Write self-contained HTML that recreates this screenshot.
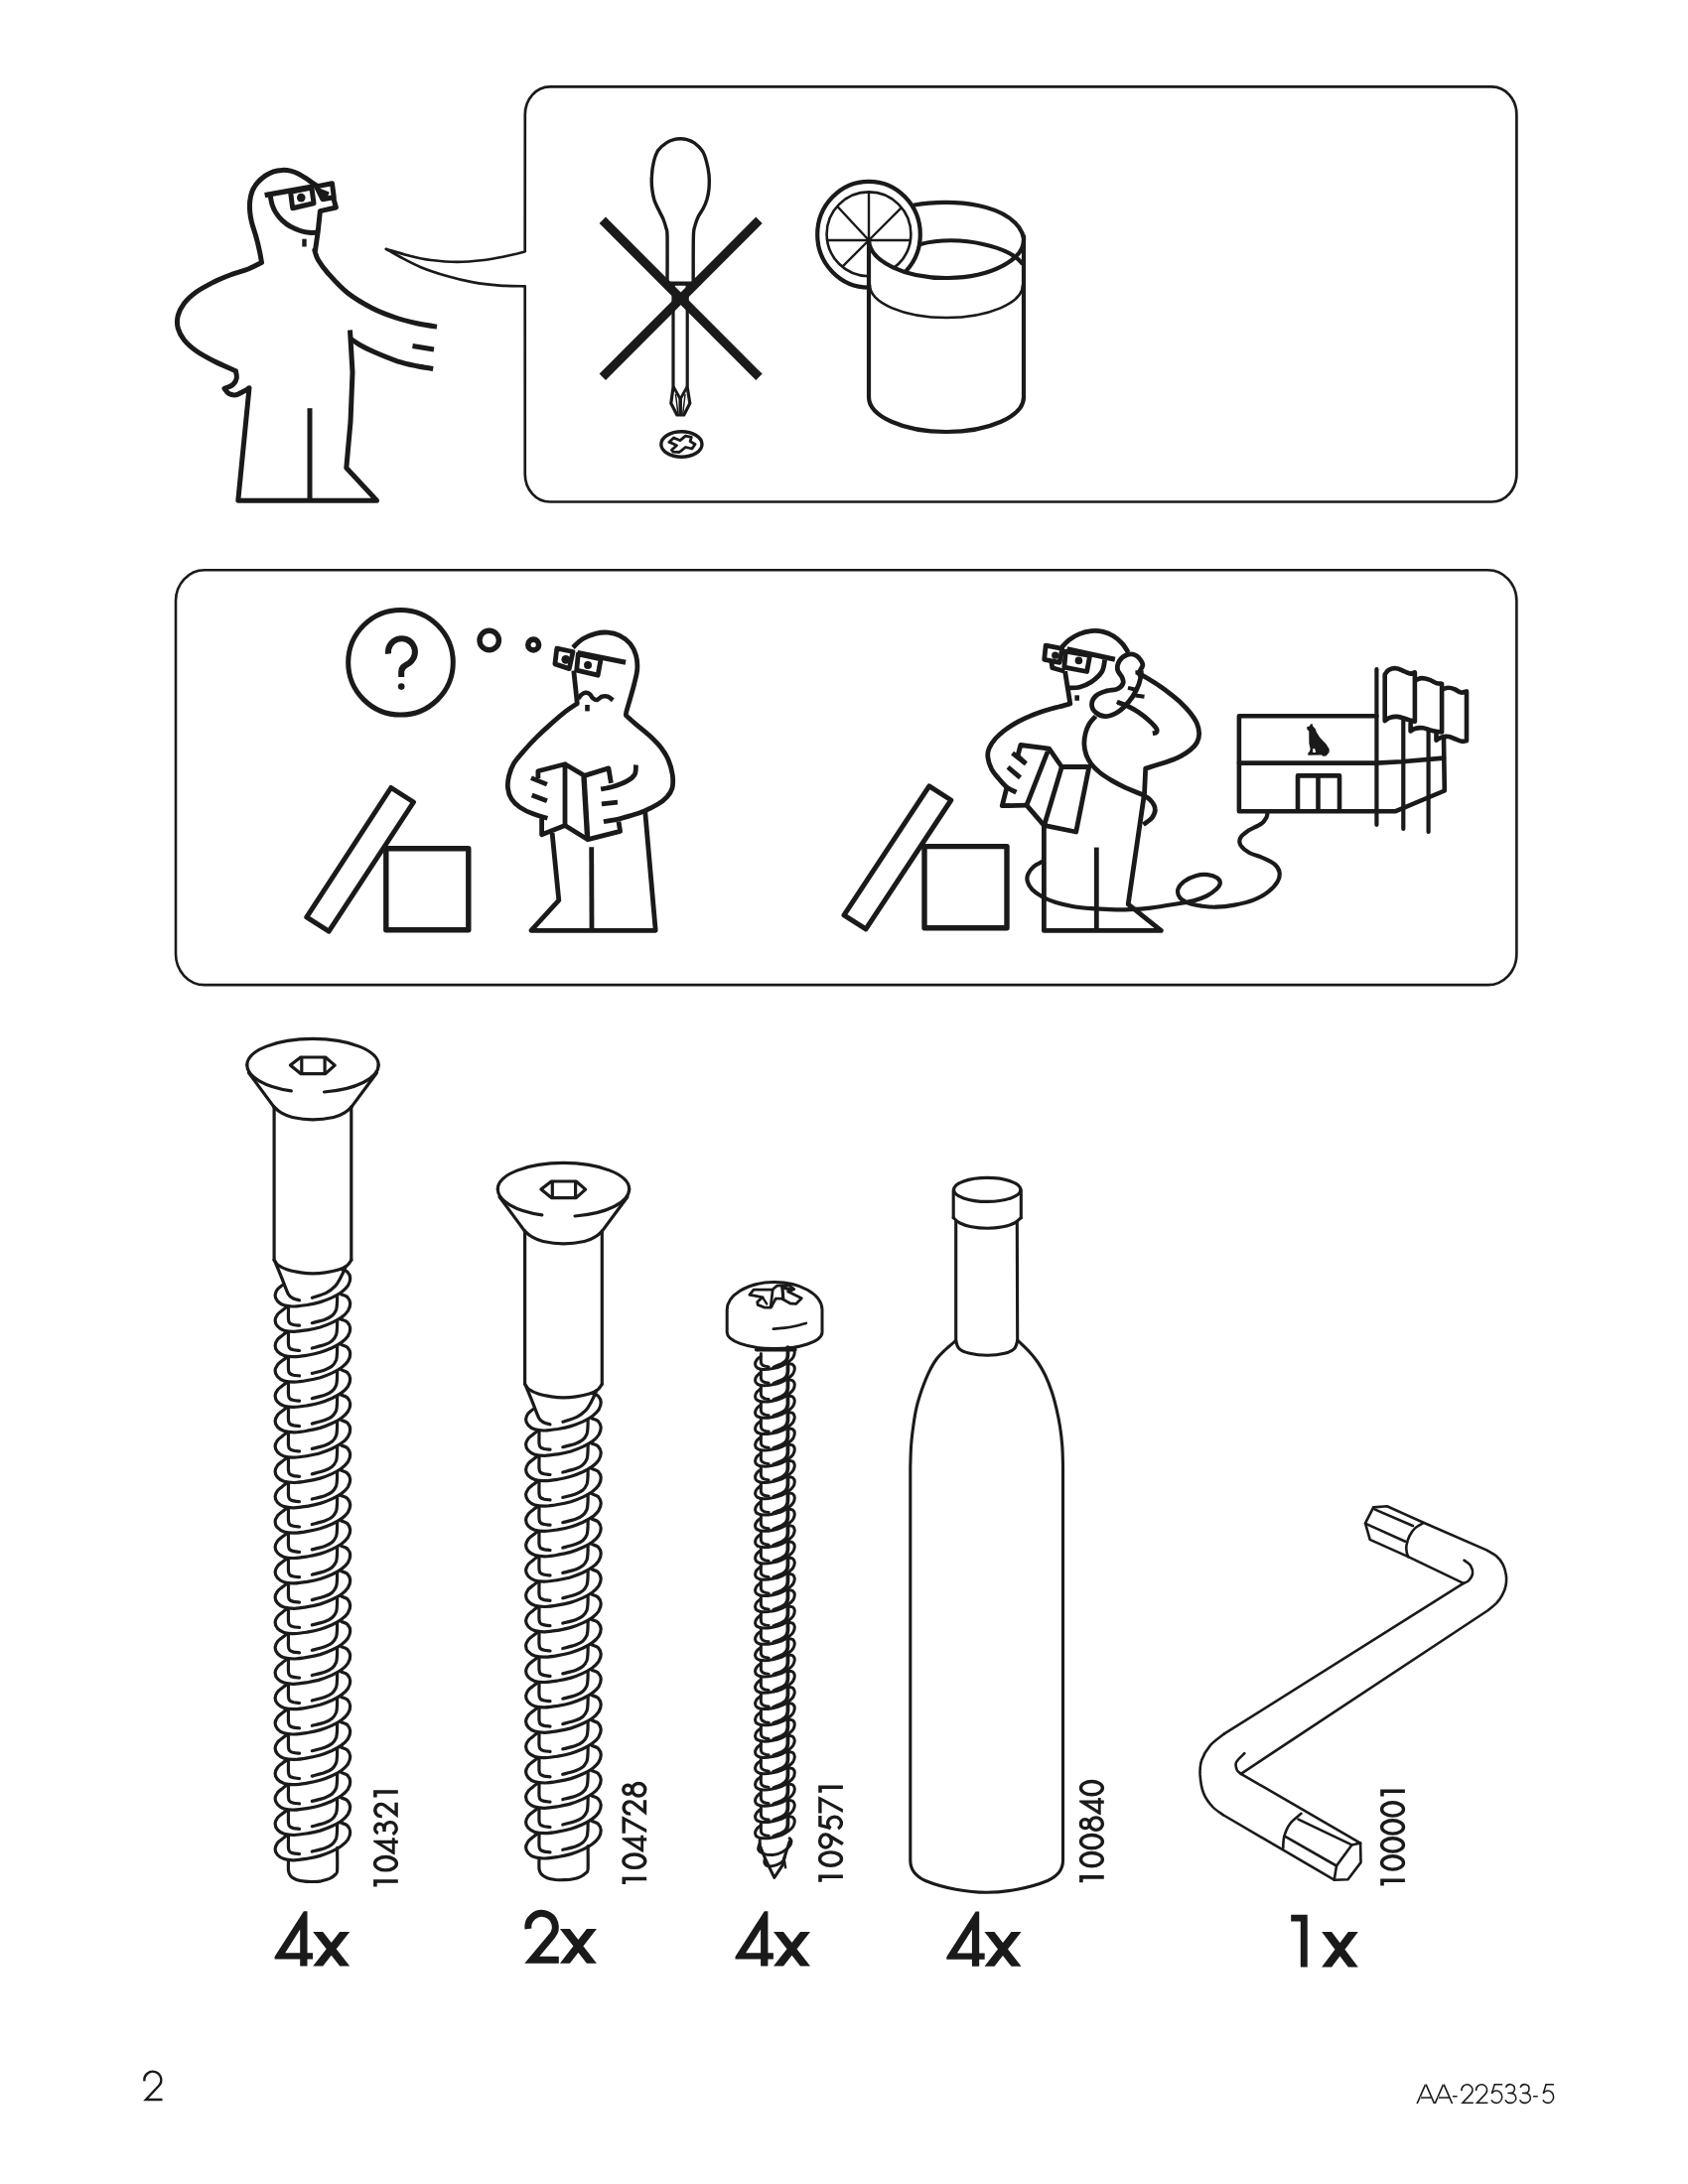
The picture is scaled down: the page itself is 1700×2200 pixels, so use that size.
<!DOCTYPE html>
<html><head><meta charset="utf-8"><title>Assembly instructions - page 2</title>
<style>
html,body{margin:0;padding:0;background:#fff;}
body{width:1700px;height:2200px;overflow:hidden;font-family:"Liberation Sans",sans-serif;}
svg{display:block;position:absolute;left:0;top:0;}
svg text{font-family:"Liberation Sans",sans-serif;}
</style></head><body>
<svg width="1700" height="2200" viewBox="0 0 1700 2200" fill="none" stroke="#1a1a1a" stroke-linecap="round" stroke-linejoin="round">
<rect x="0" y="0" width="1700" height="2200" fill="#fff" stroke="none"/>
<path d="M553.75,87.4 L1502.4,87.4 A25,28 0 0 1 1527.4,115.4 L1527.4,477.5 A25,28 0 0 1 1502.4,505.5 L553.75,505.5 A25,28 0 0 1 528.75,477.5 L528.7,288.3 C524.4,288.2 512,288.2 503.3,287.6 C494.6,286.9 485.5,286 476.6,284.4 C467.7,282.8 458.9,280.6 450,278 C441.1,275.4 431.3,272.2 423.3,268.9 C415.3,265.6 407.8,261.3 402,258.3 C396.2,255.2 390.9,252 388.7,250.8 C392.7,251.9 405.1,255.9 412.7,257.7 C420.2,259.6 426,261 434,262 C442,263 451.8,263.9 460.6,263.9 C469.5,263.9 479.3,262.9 487.3,262 C495.3,261 502,259.6 508.6,258.3 C515.2,256.9 523.4,254.9 526.7,254 C530.1,253.1 528.3,252.8 528.7,252.6 L528.8,115.4 A25,28 0 0 1 553.75,87.4 Z" stroke-width="2.7"/>
<g stroke-linecap="butt">
<path d="M319.6,187.4 C318.8,186.8 316.6,185.5 314.6,184.2 C312.6,182.8 309.9,180.7 307.5,179.2 C305.2,177.6 302.9,176.1 300.4,174.9 C297.9,173.7 295.3,172.7 292.6,172.1 C289.9,171.5 286.9,171.3 284.1,171.4 C281.2,171.5 278.4,171.8 275.5,172.8 C272.7,173.7 269.7,175.2 267,177.1 C264.3,179 261.3,181.7 259.2,184.2 C257.1,186.7 255.5,188.9 254.2,192 C253,195.1 252.1,199.1 251.7,202.6 C251.3,206.2 251.4,209.8 251.7,213.3 C252,216.9 252.5,219.8 253.5,224 C254.5,228.1 256.5,233.4 257.8,238.2 C259.1,242.9 260.4,248 261.3,252.4 C262.3,256.8 263.1,262.5 263.5,264.5 C261.2,265.6 255.2,269 250,271 C244.8,273 238.3,274.5 232.5,276.8 C226.7,279 220.8,281.3 215,284.2 C209.2,287.2 202.4,290.7 197.5,294.2 C192.6,297.8 188.5,301.5 185.5,305.5 C182.5,309.5 180.3,313.8 179.2,318 C178.2,322.2 178.2,326.4 179.2,330.5 C180.3,334.6 182.4,338.6 185.5,342.5 C188.6,346.4 193,350.2 198,353.8 C203,357.3 208.9,360.4 215.5,363.8 C222.1,367.1 233.8,372.1 237.5,373.8 C237.6,375 238.8,379 238.2,381.2 C237.8,383.5 236.5,385.8 234.5,387.5 C232.5,389.2 227.4,390.8 226,391.5 C226.8,392.3 228.6,395.5 230.5,396.5 C232.4,397.5 235,398.2 237.5,397.8 C240,397.3 243.5,395.2 245.8,394 C248,392.8 250.1,391.3 251,390.8 L239.8,504.2 L379.5,504.2 L348.8,471.2 L353,425 L355,375 L352.5,332.5" stroke-width="5"/>
<path d="M266.7,196.7 L315.7,187.9" stroke-width="5.4"/>
<path d="M292.6,193.4 L313.9,189.1 L316,204.8 L294.7,209.8 Z" stroke-width="5"/>
<path d="M318.5,187.9 L334.5,184.7 L336.3,198.7 L324.9,200.7 Z" stroke-width="5"/>
<circle cx="303.255" cy="199.09" r="4.3" fill="#1a1a1a" stroke="none"/>
<path d="M318.9,188.4 L331.7,193.4 L329.6,199.8 L324.9,200.7 Z" fill="#1a1a1a" stroke="none"/>
<path d="M335.9,199.8 L338.4,209 L322.4,212.6 L320.3,232.5 L317.5,252.4 C317.4,252.4 316.5,250.9 317,252.5 C317.5,254.1 318.2,258.2 320.5,262 C322.8,265.8 325.6,270 330.5,275.5 C335.4,281 342.6,289.2 350,295 C357.4,300.8 366.7,306.2 375,310.5 C383.3,314.8 392.5,318 400,320.5 C407.5,323 413.3,324.3 420,325.8 C426.7,327.2 436.7,328.7 440,329.2" stroke-width="5"/>
<path d="M272.3,197.7 C272.6,199.1 273.2,203.5 274.1,206.2 C275,208.9 276,211.4 277.7,214 C279.3,216.6 281.6,219.5 284.1,221.8 C286.6,224.2 289.5,226.5 292.6,228.2 C295.7,230 299.5,231.5 302.5,232.5 C305.6,233.5 308.2,234 311.1,234.3 C313.9,234.6 318.2,234.3 319.6,234.3" stroke-width="5"/>
<rect x="304.3" y="240.7" width="4.4" height="7.8" fill="#1a1a1a" stroke="none"/>
<path d="M312,411.2 L312,503.8" stroke-width="5"/>
<path d="M353,341.2 C354.6,342.3 358.8,345.4 362.5,347.5 C366.2,349.6 368.8,351 375,353.8 C381.2,356.5 392.5,361.2 400,363.8 C407.5,366.2 414,367.5 420,368.8 C426,370 433.5,371 436.2,371.5" stroke-width="5"/>
<path d="M415.5,348.5 L437,352" stroke-width="5"/>
</g>
<path d="M672,284.7 C672,277.7 672.2,246.1 672,237.8 C671.8,229.5 671.4,232.1 670.8,229.6 C670.2,227 668.9,223.1 667.9,220.5 C666.8,217.9 665.1,215 663.8,212.3 C662.5,209.5 660.3,205.6 659.2,202.4 C658.2,199.2 657.2,194.5 656.8,190.8 C656.3,187.1 656.1,181.9 656.4,177.7 C656.6,173.5 657.4,166.8 658.4,162.8 C659.4,158.9 661,154.1 662.9,151.3 C664.9,148.5 668.8,145.5 671.2,143.9 C673.5,142.3 676.5,141.2 678.6,140.6 C680.7,140 683.2,139.8 685.2,139.8 C687.2,139.8 689.7,140 691.8,140.6 C693.9,141.2 696.8,142.2 699.2,143.9 C701.5,145.6 705.6,149.3 707.4,152.1 C709.3,155 710.6,159.3 711.5,162.8 C712.5,166.4 713.6,171.9 714,176 C714.4,180.1 714.3,186.3 714,190 C713.7,193.7 712.8,197.8 712,200.7 C711.1,203.7 709.6,207.2 708.3,209.8 C707,212.4 704.5,215.4 703.3,218 C702.1,220.6 700.8,224.1 700,227.1 C699.3,230 698.6,229.1 698.4,237.8 C698.1,246.4 698.2,277.7 698.2,284.7" stroke-width="3.4"/>
<path d="M671.5,285.6 L698.8,285.6" stroke-width="4.2"/>
<path d="M678,286.2 L678,390 L675.8,406.2 L681.8,418 L688.8,418 L694.8,406.2 L692.2,390 L692.2,286.2" stroke-width="3.2"/>
<path d="M678.5,390 L685.2,402 L691.8,390" stroke-width="2.8"/>
<path d="M685.2,402 L685.2,417.5" stroke-width="3.5"/>
<path d="M680.5,397.5 L682.8,416.2" stroke-width="1.5"/>
<path d="M690,397.5 L687.8,416.2" stroke-width="1.5"/>
<path d="M606.8,221.8 L764.5,379.8" stroke-width="9" stroke-linecap="butt"/>
<path d="M764.5,221.8 L606.8,379.8" stroke-width="9" stroke-linecap="butt"/>
<ellipse cx="686.4" cy="447.5" rx="20.6" ry="12.8" stroke-width="3.4"/>
<path d="M673.8,445.5 L678.5,441 L685,443.7 L690.4,439.2 L696.3,440.4 L695.1,444.6 L700.1,447.5 L696.9,452 L690.4,450.5 L685.6,454.3 L683.8,455.5 L677.9,455.2 L676.4,453.2 L681.5,448.7 L677.9,446.9 Z" stroke-width="2.8"/>
<defs><clipPath id="lemclip"><path clip-rule="evenodd" d="M780,150 H1100 V330 H780 Z M875,242 A78,39 0 0 0 1031,242 V330 H875 Z"/></clipPath></defs>
<defs><clipPath id="lemin"><circle cx="875" cy="235.8" r="42.4"/></clipPath></defs>
<g clip-path="url(#lemclip)">
<ellipse cx="875" cy="236.2" rx="51.8" ry="53.4" stroke-width="4.2"/>
<circle cx="875" cy="235.8" r="42.4" stroke-width="2.6"/>
<g clip-path="url(#lemin)">
<path d="M875,242 L945.0,242.0" stroke-width="2.4"/>
<path d="M875,242 L924.5,192.5" stroke-width="2.4"/>
<path d="M875,242 L875.0,172.0" stroke-width="2.4"/>
<path d="M875,242 L827.3,190.8" stroke-width="2.4"/>
<path d="M875,242 L805.0,242.0" stroke-width="2.4"/>
<path d="M875,242 L825.5,291.5" stroke-width="2.4"/>
</g>
</g>
<path d="M875,242 V400 A78,35 0 0 0 1031,400 V238" stroke-width="4.2"/>
<path d="M875,242 A78,39 0 0 0 1031,240" stroke-width="4.2"/>
<path d="M921,206.5 C940,203 965,203 985,207 C1010,212 1028,224 1031,240" stroke-width="4.2"/>
<path d="M927,246 C945,241 970,241 990,246 C1008,250 1022,256 1029,265" stroke-width="4.2"/>
<path d="M876,287 A77,33 0 0 0 1030,287" stroke-width="2.6"/>
<path d="M206,574.3 L1498.4,574.3 A29,31 0 0 1 1527.4,605.3 L1527.4,961.1 A29,31 0 0 1 1498.4,992.1 L206,992.1 A29,31 0 0 1 177,961.1 L177,605.3 A29,31 0 0 1 206,574.3 Z" stroke-width="2.6"/>
<circle cx="403.5" cy="667.3" r="52.8" stroke-width="5"/>
<path d="M391.1,658.6 A13.5,13.5 0 1 1 412.8,667.3 C408.3,670.7 404.2,671 404.2,676.5 L404.2,682" stroke-width="6" stroke-linecap="butt"/>
<circle cx="404.2" cy="691.6" r="3.3" fill="#1a1a1a" stroke="none"/>
<circle cx="492.7" cy="645" r="9.7" stroke-width="5.4"/>
<circle cx="537.2" cy="649.5" r="5.4" stroke-width="5.6"/>
<path d="M393.8,793.5 L416.5,808 L331.2,938.2 L308.8,923.8 Z" stroke-width="5"/>
<rect x="388.8" y="854.8" width="83" height="82" stroke-width="5.4"/>
<g stroke-linecap="butt">
<path d="M577,652.2 C578.7,650.7 583.1,645.8 587,643.5 C590.9,641.1 596.2,639.2 600.4,638.1 C604.6,637.1 608.2,636.8 612.1,637.1 C616,637.4 620,638.2 623.8,640.1 C627.6,642 631.9,645.1 634.7,648.5 C637.4,651.8 639.3,656 640.5,660.2 C641.7,664.4 642.1,668.8 641.8,673.6 C641.6,678.3 640,683.6 638.8,688.6 C637.6,693.6 636,698.9 634.7,703.6 C633.3,708.4 631.5,714.2 630.8,717 C630.1,719.9 630.5,720.1 630.5,720.7 C632.2,722.2 636.6,726.2 640.5,729.6 C644.4,732.9 649.7,736.9 653.9,740.8 C658.1,744.7 662.4,748.8 665.6,753 C668.8,757.1 671.2,760.9 673.1,765.5 C675.1,770.1 676.6,775.8 677.3,780.5 C677.9,785.3 677.9,790.2 677,793.9 C676,797.7 673.9,800.4 671.4,803.1 C669,805.8 666,808 662.2,810.3 C658.5,812.6 653.3,815.1 648.9,817 C644.4,818.9 639.7,820.2 635.5,821.5 C631.3,822.8 628.4,823.8 623.8,824.8 C619.2,825.9 610.6,827.2 607.9,827.7" stroke-width="4.8"/>
<path d="M577.8,675.6 L581.3,708.7 C579.5,709.9 574.9,712.6 570.3,716.2 C565.7,719.8 558.6,725.9 553.6,730.4 C548.6,734.8 544.5,738.6 540.2,742.9 C535.9,747.2 531.4,752 527.7,756.3 C523.9,760.6 520.2,764.7 517.6,768.8 C515.1,773 513.7,777.2 512.6,781.4 C511.6,785.6 511,790 511.5,793.9 C511.9,797.8 513.1,801.6 515.1,804.8 C517.1,808 519.9,810.6 523.5,813.1 C527.1,815.6 532.2,818 536.9,819.8 C541.5,821.7 549,823.6 551.4,824.3" stroke-width="4.8"/>
<path d="M649.7,817.3 L660.2,937.3 L534.9,937.3 L562.8,906.8 L556.1,839.1" stroke-width="4.8"/>
<path d="M595.7,853.3 L596,936.8" stroke-width="4.8"/>
<path d="M582.3,704 C582.8,703.3 584.1,701 585.3,700 C586.5,698.9 588.1,698 589.5,697.8 C590.9,697.6 592.5,698 593.7,699 C595,699.9 595.8,702.3 597,703.3 C598.3,704.3 599.7,705.3 601.2,705 C602.8,704.7 604.4,702.2 606.2,701.6 C608.1,701.1 610.2,701 612.1,701.6 C614,702.3 616.6,704.7 617.4,705.3" stroke-width="4.4"/>
<rect x="589.191" y="709.997" width="4.6" height="6.4" fill="#1a1a1a" stroke="none"/>
<path d="M581.7,657.5 L630.1,667.2" stroke-width="5.2"/>
<path d="M582.3,658.8 L605.1,663.9 L602.1,680.2 L580.7,675.2 Z" stroke-width="4.8"/>
<path d="M560.8,653.2 L577,656.5 L573.3,673.6 L558.9,668.9 Z" stroke-width="4.8"/>
<circle cx="592.033" cy="669.876" r="4" fill="#1a1a1a" stroke="none"/>
<circle cx="569.799" cy="664.36" r="4.4" fill="#1a1a1a" stroke="none"/>
<path d="M541.9,783.9 L541.9,776.7 L569,769.7 L569,831.5 L545.6,840.7 L545.6,824.3" stroke-width="4.8"/>
<path d="M569,769.7 L588.7,781.4 L612.9,773.9 L615.4,788.9" stroke-width="4.8"/>
<path d="M569,831.5 L592,845.7 L624.6,837.4 L623,827.7" stroke-width="4.8"/>
<path d="M588,782.2 L591.7,845.4" stroke-width="5.4"/>
<path d="M534.9,783.6 L550.9,790.1" stroke-width="4.8"/>
<path d="M535.7,801.1 L550.9,806.8" stroke-width="4.8"/>
<path d="M640.5,770.5 C640.3,772.1 640.7,777.5 639.2,780.2 C637.6,782.9 634.9,784.9 631.3,786.9 C627.8,788.9 622.3,790.9 617.9,792.2 C613.6,793.6 607.2,794.5 605.1,794.9" stroke-width="4.8"/>
<path d="M605.9,809.8 L622,808.1" stroke-width="4.8"/>
</g>
<path d="M935.8,791.8 L957.8,806 L872,935.8 L850,921.8 Z" stroke-width="5"/>
<rect x="931" y="852.6" width="83" height="82.2" stroke-width="5.4"/>
<path d="M1049.9,867.8 C1048.5,868.6 1043.4,870.9 1041,873 C1038.6,875.1 1036.4,877.9 1035.4,880.4 C1034.3,882.9 1034.1,885.3 1034.8,887.9 C1035.5,890.5 1037,893.4 1039.5,896 C1042.1,898.6 1046,901.3 1049.9,903.5 C1053.9,905.6 1058.1,907.4 1063.3,909 C1068.5,910.6 1075.2,912.1 1081.2,913.2 C1087.1,914.2 1092.8,914.7 1099,915.2 C1105.2,915.7 1111.9,916 1118.4,916.1 C1124.8,916.3 1131,916.4 1137.7,916.1 C1144.4,915.9 1150.1,915.7 1158.6,914.6 C1167,913.6 1181,911.2 1188.4,910 C1195.7,908.7 1198.4,908.3 1202.9,907.1 C1207.4,905.8 1211.7,904.3 1215.3,902.5 C1218.9,900.7 1222.4,898.2 1224.6,896.1 C1226.9,894 1228.6,891.8 1228.8,889.8 C1229,887.9 1227.8,885.7 1225.7,884.2 C1223.6,882.8 1219.9,881.5 1216.3,881.1 C1212.8,880.8 1208.3,881.1 1204.3,882.2 C1200.3,883.3 1195.5,885.5 1192.5,887.8 C1189.5,890.1 1187,893.3 1186.3,896.1 C1185.6,898.8 1186.6,902.1 1188.4,904.4 C1190.1,906.6 1193,908.2 1196.7,909.5 C1200.3,910.9 1205.5,912 1210.1,912.7 C1214.8,913.3 1219.1,913.9 1224.6,913.7 C1230.2,913.5 1236.9,912.8 1243.3,911.6 C1249.7,910.4 1257.3,908.7 1263,906.4 C1268.7,904.2 1273.5,901.2 1277.5,898.1 C1281.5,895 1285,891.1 1286.8,887.8 C1288.7,884.5 1289,881.3 1288.5,878.4 C1288,875.6 1286.4,872.9 1283.7,870.6 C1281,868.2 1276.7,866.3 1272.3,864.3 C1268,862.4 1261.6,860.9 1257.8,858.7 C1254,856.6 1251,853.9 1249.5,851.5 C1248.1,849.1 1247.9,846.6 1249.1,844.2 C1250.3,841.8 1253.3,839.4 1256.8,837 C1260.3,834.6 1267.1,832 1270.3,829.7 C1273.4,827.5 1274.4,825.4 1275.4,823.5 C1276.5,821.6 1276.3,819.2 1276.5,818.3" stroke-width="4.2"/>
<g stroke-linecap="butt">
<path d="M1069.3,652 C1070.5,650.8 1073.8,646.8 1076.7,644.6 C1079.7,642.3 1083.4,640.1 1087.1,638.6 C1090.9,637.1 1095.1,636 1099,635.6 C1103,635.3 1107.2,635.5 1111,636.4 C1114.7,637.2 1118.1,638.8 1121.4,640.8 C1124.6,642.8 1127.8,645.5 1130.3,648.3 C1132.8,651 1135.3,655.7 1136.2,657.2" stroke-width="4.8"/>
<path d="M1074.6,653.8 L1122.9,664.3" stroke-width="5.2"/>
<path d="M1073.3,656.2 L1097.6,660.5 L1094.6,676.5 L1071.8,672.1 Z" stroke-width="4.8"/>
<path d="M1053.2,650.1 L1069.7,653.3 L1067.1,667.3 L1051.7,664.3 Z" stroke-width="4.8"/>
<path d="M1058.9,666.4 L1059.8,672.8 L1072.3,676.2" stroke-width="4.8"/>
<circle cx="1086.4" cy="665.387" r="3.8" fill="#1a1a1a" stroke="none"/>
<circle cx="1062.74" cy="660.179" r="3.6" fill="#1a1a1a" stroke="none"/>
<path d="M1072.6,676.2 L1077.8,709 C1075.9,709.5 1070.2,710.9 1066.3,712 C1062.4,713 1058.9,713.8 1054.4,715.2 C1049.9,716.7 1044.5,718.4 1039.5,720.4 C1034.6,722.5 1029.4,724.8 1024.6,727.4 C1019.9,730 1015,733.3 1011.2,736.1 C1007.5,738.9 1004.9,741.3 1002.3,744.3 C999.8,747.2 997.3,750.8 996.1,753.9 C994.8,757 994.5,759.4 994.9,762.9 C995.3,766.3 996.9,771.3 998.6,774.8 C1000.3,778.2 1002.8,780.7 1005.3,783.7 C1007.8,786.7 1010.5,790.2 1013.5,792.6 C1016.5,795 1021.8,797.2 1023.5,798.1" stroke-width="4.8"/>
<path d="M1112.7,664.6 C1112.2,666.6 1112,672.8 1109.8,676.5 C1107.5,680.3 1102.8,684.4 1099,687 C1095.3,689.6 1090.8,691.2 1087.1,692.2 C1083.5,693.2 1078.7,692.8 1077,692.9" stroke-width="4.8"/>
<rect x="1082.38" y="700.357" width="4.6" height="5.4" fill="#1a1a1a" stroke="none"/>
<path d="M1013.9,793.4 L1009.3,811.7 L1033.9,811.2" stroke-width="4.8"/>
<path d="M1024.9,761.4 L1027.9,750.5 L1056.6,754.2 L1069.3,772.5 L1096.8,772.5 L1083.7,838 L1051.4,831.3 L1033.9,811.2 L1056,754.8" stroke-width="4.8"/>
<path d="M1069.3,772.5 L1051.7,831.3" stroke-width="4.8"/>
<path d="M1024.9,761.4 L1032.4,768.8" stroke-width="4.8"/>
<path d="M1019.6,758.7 L1033.4,769.3" stroke-width="4.8"/>
<path d="M1015.1,772.8 L1027.5,783.4" stroke-width="4.8"/>
<path d="M1103.5,721.5 C1102.4,722.8 1098.6,726.4 1096.8,729.4 C1095.1,732.3 1093.9,735.7 1093.1,739 C1092.3,742.4 1091.8,746 1091.9,749.5 C1092,752.9 1092.6,756.5 1093.8,759.9 C1095,763.2 1096.7,766.5 1099,769.6 C1101.4,772.7 1104.5,775.7 1108,778.5 C1111.4,781.3 1115.7,783.9 1119.9,786.4 C1124.1,788.8 1128.3,791.1 1133.3,793.4 C1138.2,795.6 1145.4,798 1149.6,800.1 C1153.9,802.2 1156.3,803.5 1158.6,806 C1160.9,808.5 1163.1,812 1163.3,814.9 C1163.6,817.9 1162,821.3 1160.1,823.9 C1158.1,826.5 1152.9,829.4 1151.4,830.6" stroke-width="4.8"/>
<path d="M1145.2,677.3 C1146.9,678.3 1151.9,681 1155.6,683.2 C1159.3,685.5 1163.5,688 1167.5,690.7 C1171.5,693.4 1175.7,696.6 1179.4,699.6 C1183.1,702.6 1186.6,705.4 1189.8,708.5 C1193,711.6 1196.1,714.9 1198.8,718.2 C1201.4,721.6 1204,725.2 1205.4,728.6 C1206.9,732.1 1207.7,735.8 1207.7,739 C1207.7,742.3 1206.9,745.2 1205.4,748 C1204,750.7 1201.6,753.1 1198.8,755.4 C1195.9,757.8 1192.5,760 1188.3,762.1 C1184.1,764.2 1179.2,766.1 1173.5,768.1 C1167.7,770 1157,773 1153.7,774 L1152.6,798.6 L1136.2,910.9 L1169.3,937.4 L1051.4,937.4 L1051.4,831.3" stroke-width="4.8"/>
<path d="M1104.3,853.6 L1104.3,937" stroke-width="4.8"/>
<path d="M1125.8,707.5 C1127.6,708.2 1132.8,709.9 1136.2,711.5 C1139.7,713.2 1143.2,715.1 1146.7,717.5 C1150.1,719.8 1154.1,722.9 1157.1,725.7 C1160.1,728.4 1163.3,731.8 1164.5,733.8 C1165.8,735.9 1165.1,737.1 1164.5,737.9 C1163.9,738.7 1161.4,738.5 1160.8,738.6" stroke-width="4.8"/>
<path d="M1147.4,677.3 C1147.8,674.9 1151.3,671.9 1150.8,669.1 C1150.3,666.3 1147,662.1 1144.4,660.5 C1141.9,658.9 1138.4,658.5 1135.5,659.4 C1132.7,660.3 1129,663.3 1127.3,665.8 C1125.7,668.4 1125.1,672 1125.5,674.8 C1126,677.5 1129.1,679.9 1130,682.2 C1130.9,684.5 1131.9,686.5 1131,688.5 C1130.2,690.4 1127.8,692.9 1125.1,694.1 C1122.4,695.3 1118.1,694.9 1114.7,695.9 C1111.2,696.9 1106.8,698.1 1104.3,700.4 C1101.7,702.6 1099.6,706.4 1099.5,709.3 C1099.4,712.2 1101.4,715.9 1103.8,717.9 C1106.2,720 1110.1,721.8 1113.9,721.6 C1117.7,721.4 1122.7,719.2 1126.6,716.7 C1130.4,714.2 1134,710.2 1137,706.6 C1140,703 1142.5,699 1144.4,695.1 C1146.4,691.3 1148.1,686.2 1148.6,683.2 C1149.1,680.3 1147,679.6 1147.4,677.3 Z" stroke-width="4.8"/>
<path d="M1143.4,677.3 L1151.7,677.3" stroke-width="4"/>
<path d="M1136,692.9 L1144,694.7" stroke-width="4"/>
<path d="M1143.4,700.4 L1152.5,701.8" stroke-width="4"/>
<path d="M1124.8,706.9 L1133.6,710.9" stroke-width="4"/>
</g>
<path d="M1386.4,721.3 L1247.9,721.3 L1247.9,817.3 L1405,817.3 L1454.8,796.5 L1454,743.7" stroke-width="4.6"/>
<path d="M1247.9,768.6 L1386.4,768.6 L1411.2,767.3 L1454,763.6" stroke-width="4.6"/>
<path d="M1307,815.2 L1307,781.4 L1349,781.4 L1349,815.2" stroke-width="4.6"/>
<path d="M1327.5,781.4 L1327.5,815.2" stroke-width="4.6"/>
<path d="M1386.4,674.2 L1386.4,830.8" stroke-width="4.2"/>
<path d="M1413.3,724 L1413.3,834.9" stroke-width="4.2"/>
<path d="M1438.6,737.4 L1438.6,838" stroke-width="4.2"/>
<path d="M1394.7,726 L1394.7,679.4 C1395.4,678.6 1396.9,675.9 1398.8,674.8 C1400.7,673.8 1403.5,672.9 1406.1,673.2 C1408.7,673.4 1411.9,675.4 1414.4,676.3 C1416.8,677.2 1418.8,678.4 1420.6,678.6 C1422.3,678.7 1424.2,677.5 1424.9,677.3 L1424.9,726.7 C1424.4,726.6 1423.2,726.5 1421.6,726 C1420,725.6 1417.8,724.7 1415.4,724 C1413,723.3 1409.7,722.1 1407.1,721.9 C1404.5,721.7 1401.9,722.2 1399.8,722.9 C1397.8,723.6 1395.5,725.5 1394.7,726" stroke-width="4.6"/>
<path d="M1426.8,684.6 C1427.7,684.3 1429.9,683.1 1432,683.1 C1434.1,683.1 1436.8,683.7 1439.2,684.6 C1441.7,685.4 1444.4,687.4 1446.5,688.1 C1448.6,688.8 1451.2,688.6 1452.1,688.7 L1452.1,737.4 C1451.3,737.4 1449.5,737.4 1447.5,737 C1445.6,736.7 1442.7,736 1440.3,735.4 C1437.9,734.8 1435.4,733.6 1433,733.3 C1430.6,733 1427.8,733.2 1425.8,733.7 C1423.7,734.2 1421.4,736 1420.6,736.4 L1420.6,728.7" stroke-width="4.6"/>
<path d="M1453.8,693.9 C1454.6,693.7 1457,692.6 1458.9,692.7 C1460.8,692.7 1463.1,693.5 1465.2,694.3 C1467.2,695.2 1469.4,697.3 1471.4,697.6 C1473.3,698 1476,696.6 1477,696.4 L1477,746.2 C1476.2,746.3 1474.2,747 1472.4,746.8 C1470.6,746.5 1468.4,745.5 1466.2,744.7 C1463.9,743.9 1461.4,742.4 1458.9,742 C1456.5,741.7 1453.8,742 1451.7,742.6 C1449.6,743.3 1447.4,745.2 1446.5,745.7 L1446.5,739.5" stroke-width="4.6"/>
<path d="M1316.1,732.3 L1318.9,731.6 L1319.6,729.7 L1321.5,729 L1322.2,731.6 L1324.6,734 L1326,737.7 L1329.3,743 L1335.5,749.6 L1338.8,754.8 L1338.6,758.1 L1335.5,761.4 L1332.2,761.7 L1331.2,760.5 L1317.3,760.7 L1317.3,758.6 L1318.9,756.9 L1319.6,754.3 L1318.4,749.1 L1318.2,736.3 L1316.5,734.9 Z M1322.2,754.3 L1324.1,754.1 L1325.1,757.9 L1322.2,757.9 Z" fill="#1a1a1a" fill-rule="evenodd" stroke="none"/>
<g transform="translate(0,0)">
<path d="M248.8,1072.8 A66.2,26.4 0 0 1 381.2,1072.8" stroke-width="3.2"/>
<path d="M248.8,1072.8 A66.2,27.6 0 0 0 293.3,1098.9" stroke-width="3.2"/>
<path d="M381.2,1072.8 A66.2,27.6 0 0 1 326.5,1100" stroke-width="3.2"/>
<path d="M292.4,1073.1 L302.8,1065 L327.7,1065 L337.2,1073.1 L327.7,1081.6 L302.8,1081.6 Z" stroke-width="3.2"/>
<path d="M303.8,1065.3 L303.8,1081.3" stroke-width="3.2"/>
<path d="M327.1,1065.3 L327.1,1081.3" stroke-width="3.2"/>
<path d="M250.6,1080.8 L275.8,1114.9" stroke-width="3.2"/>
<path d="M379.4,1080.8 L354.1,1114.9" stroke-width="3.2"/>
<path d="M275.8,1114.9 C277,1115.9 279.8,1119 282.9,1120.7 C286.1,1122.5 289.2,1124.3 294.5,1125.5 C299.9,1126.7 308,1127.9 314.9,1127.9 C321.9,1127.9 330.6,1126.7 336,1125.5 C341.4,1124.3 344.3,1122.5 347.3,1120.7 C350.3,1119 353,1115.9 354.1,1114.9" stroke-width="3.2"/>
<path d="M276.1,1114.9 L276.1,1269.2" stroke-width="3.2"/>
<path d="M353.8,1114.9 L353.8,1269.2" stroke-width="3.2"/>
<path d="M276.1,1269.2 C276.8,1270 277.7,1272.5 279.9,1274.2 C282.2,1275.8 285.8,1277.8 289.6,1279.1 C293.4,1280.4 298.6,1281.3 302.8,1281.9 C307.1,1282.6 310.8,1282.9 314.9,1282.9 C319.1,1282.9 323.4,1282.6 327.7,1281.9 C332.1,1281.3 337.3,1280.3 341,1279.1 C344.6,1277.9 347.5,1276.3 349.6,1274.7 C351.7,1273 353.1,1270.1 353.8,1269.2" stroke-width="3.2"/>
<path d="M277,1270.8 C277.9,1273 282,1283 283.8,1287.4 C285.6,1291.8 288.8,1300.9 290.4,1303.7 C291.9,1306.4 293.9,1307.2 295.4,1308 C296.9,1308.8 300.7,1309.6 301.5,1309.8" stroke-width="3.2"/>
<path d="M348.1,1276.1 C347.3,1278 344.7,1283.9 343,1287.1 C341.2,1290.3 340.1,1292.8 337.7,1295.4 C335.3,1297.9 332.4,1300.4 328.5,1302.4 C324.7,1304.3 316.8,1306.5 314.4,1307.3" stroke-width="3.2"/>
<path d="M343.8,1278.5 C344.8,1278.9 348.3,1279.6 349.8,1281.1 C351.2,1282.6 352.6,1285.1 352.7,1287.4 C352.8,1289.8 351.8,1292.8 350.4,1295.2 C348.9,1297.5 346.5,1299.7 343.8,1301.7 C341.1,1303.7 337.9,1305.4 334.3,1307.1 C330.7,1308.7 326.5,1310.4 322.4,1311.6 C318.2,1312.8 313.7,1313.7 309.3,1314.5 C304.9,1315.2 300.1,1315.9 296.2,1316 C292.3,1316.1 288.8,1315.7 286.1,1314.8 C283.3,1313.9 281,1312.3 279.5,1310.6 C278,1309 277.1,1306.7 277.1,1304.7 C277.1,1302.7 278.3,1300.4 279.5,1298.7 C280.7,1297.1 283.5,1295.3 284.3,1294.6" stroke-width="3.2"/>
<path d="M343.8,1303.9 C344.8,1304.3 348.3,1305 349.8,1306.5 C351.2,1308 352.6,1310.4 352.7,1312.8 C352.8,1315.1 351.8,1318.1 350.4,1320.5 C348.9,1322.9 346.5,1325.1 343.8,1327.1 C341.1,1329.1 337.9,1330.8 334.3,1332.4 C330.7,1334.1 326.5,1335.7 322.4,1337 C318.2,1338.2 313.7,1339.1 309.3,1339.8 C304.9,1340.5 300.1,1341.3 296.2,1341.4 C292.3,1341.4 288.8,1341.1 286.1,1340.2 C283.3,1339.3 281,1337.7 279.5,1336 C278,1334.3 277.1,1332 277.1,1330 C277.1,1328.1 278.3,1325.8 279.5,1324.1 C280.7,1322.4 282.7,1321.2 284.3,1319.9 C285.8,1318.7 288.1,1317 288.8,1316.5" stroke-width="3.2"/>
<path d="M290.5,1317.2 C290.5,1318.7 290.3,1326.8 290.5,1328.9 C290.6,1330.9 291,1331.9 291.7,1332.7 C292.3,1333.4 294.3,1334.1 295.6,1334.5 C296.9,1334.8 300.8,1335.1 301.5,1335.2" stroke-width="3.2"/>
<path d="M339.6,1304.8 C339.6,1305.9 339.7,1310 339.5,1312.2 C339.4,1314.4 339.3,1317.4 338.6,1319.3 C337.8,1321.3 336.2,1323.8 334.5,1325.3 C332.8,1326.8 330.2,1328.1 327.1,1329.2 C324.1,1330.3 316.2,1332.1 314.3,1332.7" stroke-width="3.2"/>
<path d="M343.8,1329.2 C344.8,1329.6 348.3,1330.3 349.8,1331.8 C351.2,1333.3 352.6,1335.8 352.7,1338.1 C352.8,1340.5 351.8,1343.5 350.4,1345.9 C348.9,1348.3 346.5,1350.4 343.8,1352.4 C341.1,1354.4 337.9,1356.1 334.3,1357.8 C330.7,1359.4 326.5,1361.1 322.4,1362.3 C318.2,1363.5 313.7,1364.4 309.3,1365.2 C304.9,1365.9 300.1,1366.7 296.2,1366.7 C292.3,1366.8 288.8,1366.4 286.1,1365.5 C283.3,1364.6 281,1363 279.5,1361.4 C278,1359.7 277.1,1357.4 277.1,1355.4 C277.1,1353.4 278.3,1351.1 279.5,1349.4 C280.7,1347.8 282.7,1346.6 284.3,1345.3 C285.8,1344 288.1,1342.4 288.8,1341.8" stroke-width="3.2"/>
<path d="M290.5,1342.5 C290.5,1344.1 290.3,1352.1 290.5,1354.2 C290.6,1356.3 291,1357.3 291.7,1358 C292.3,1358.8 294.3,1359.5 295.6,1359.8 C296.9,1360.1 300.8,1360.4 301.5,1360.5" stroke-width="3.2"/>
<path d="M339.6,1330.2 C339.6,1331.3 339.7,1335.4 339.5,1337.5 C339.4,1339.7 339.3,1342.7 338.6,1344.7 C337.8,1346.7 336.2,1349.2 334.5,1350.6 C332.8,1352.1 330.2,1353.5 327.1,1354.6 C324.1,1355.7 316.2,1357.5 314.3,1358" stroke-width="3.2"/>
<path d="M343.8,1354.6 C344.8,1355 348.3,1355.7 349.8,1357.2 C351.2,1358.7 352.6,1361.2 352.7,1363.5 C352.8,1365.8 351.8,1368.9 350.4,1371.2 C348.9,1373.6 346.5,1375.8 343.8,1377.8 C341.1,1379.8 337.9,1381.5 334.3,1383.1 C330.7,1384.8 326.5,1386.4 322.4,1387.7 C318.2,1388.9 313.7,1389.8 309.3,1390.5 C304.9,1391.3 300.1,1392 296.2,1392.1 C292.3,1392.1 288.8,1391.8 286.1,1390.9 C283.3,1390 281,1388.4 279.5,1386.7 C278,1385 277.1,1382.7 277.1,1380.8 C277.1,1378.8 278.3,1376.5 279.5,1374.8 C280.7,1373.1 282.7,1371.9 284.3,1370.6 C285.8,1369.4 288.1,1367.8 288.8,1367.2" stroke-width="3.2"/>
<path d="M290.5,1367.9 C290.5,1369.5 290.3,1377.5 290.5,1379.6 C290.6,1381.6 291,1382.6 291.7,1383.4 C292.3,1384.1 294.3,1384.8 295.6,1385.2 C296.9,1385.5 300.8,1385.8 301.5,1385.9" stroke-width="3.2"/>
<path d="M339.6,1355.5 C339.6,1356.6 339.7,1360.7 339.5,1362.9 C339.4,1365.1 339.3,1368.1 338.6,1370 C337.8,1372 336.2,1374.5 334.5,1376 C332.8,1377.5 330.2,1378.8 327.1,1379.9 C324.1,1381 316.2,1382.9 314.3,1383.4" stroke-width="3.2"/>
<path d="M343.8,1379.9 C344.8,1380.4 348.3,1381.1 349.8,1382.5 C351.2,1384 352.6,1386.5 352.7,1388.8 C352.8,1391.2 351.8,1394.2 350.4,1396.6 C348.9,1399 346.5,1401.2 343.8,1403.1 C341.1,1405.1 337.9,1406.8 334.3,1408.5 C330.7,1410.1 326.5,1411.8 322.4,1413 C318.2,1414.2 313.7,1415.1 309.3,1415.9 C304.9,1416.6 300.1,1417.4 296.2,1417.4 C292.3,1417.5 288.8,1417.1 286.1,1416.2 C283.3,1415.3 281,1413.7 279.5,1412.1 C278,1410.4 277.1,1408.1 277.1,1406.1 C277.1,1404.1 278.3,1401.8 279.5,1400.2 C280.7,1398.5 282.7,1397.3 284.3,1396 C285.8,1394.7 288.1,1393.1 288.8,1392.5" stroke-width="3.2"/>
<path d="M290.5,1393.3 C290.5,1394.8 290.3,1402.9 290.5,1404.9 C290.6,1407 291,1408 291.7,1408.7 C292.3,1409.5 294.3,1410.2 295.6,1410.5 C296.9,1410.8 300.8,1411.1 301.5,1411.2" stroke-width="3.2"/>
<path d="M339.6,1380.9 C339.6,1382 339.7,1386.1 339.5,1388.3 C339.4,1390.4 339.3,1393.4 338.6,1395.4 C337.8,1397.4 336.2,1399.9 334.5,1401.3 C332.8,1402.8 330.2,1404.2 327.1,1405.3 C324.1,1406.4 316.2,1408.2 314.3,1408.7" stroke-width="3.2"/>
<path d="M343.8,1405.3 C344.8,1405.7 348.3,1406.4 349.8,1407.9 C351.2,1409.4 352.6,1411.9 352.7,1414.2 C352.8,1416.5 351.8,1419.6 350.4,1421.9 C348.9,1424.3 346.5,1426.5 343.8,1428.5 C341.1,1430.5 337.9,1432.2 334.3,1433.8 C330.7,1435.5 326.5,1437.1 322.4,1438.4 C318.2,1439.6 313.7,1440.5 309.3,1441.2 C304.9,1442 300.1,1442.7 296.2,1442.8 C292.3,1442.8 288.8,1442.5 286.1,1441.6 C283.3,1440.7 281,1439.1 279.5,1437.4 C278,1435.7 277.1,1433.4 277.1,1431.5 C277.1,1429.5 278.3,1427.2 279.5,1425.5 C280.7,1423.8 282.7,1422.6 284.3,1421.3 C285.8,1420.1 288.1,1418.5 288.8,1417.9" stroke-width="3.2"/>
<path d="M290.5,1418.6 C290.5,1420.2 290.3,1428.2 290.5,1430.3 C290.6,1432.3 291,1433.3 291.7,1434.1 C292.3,1434.8 294.3,1435.5 295.6,1435.9 C296.9,1436.2 300.8,1436.5 301.5,1436.6" stroke-width="3.2"/>
<path d="M339.6,1406.2 C339.6,1407.3 339.7,1411.4 339.5,1413.6 C339.4,1415.8 339.3,1418.8 338.6,1420.8 C337.8,1422.7 336.2,1425.2 334.5,1426.7 C332.8,1428.2 330.2,1429.5 327.1,1430.6 C324.1,1431.7 316.2,1433.6 314.3,1434.1" stroke-width="3.2"/>
<path d="M343.8,1430.6 C344.8,1431.1 348.3,1431.8 349.8,1433.2 C351.2,1434.7 352.6,1437.2 352.7,1439.6 C352.8,1441.9 351.8,1444.9 350.4,1447.3 C348.9,1449.7 346.5,1451.9 343.8,1453.8 C341.1,1455.8 337.9,1457.6 334.3,1459.2 C330.7,1460.8 326.5,1462.5 322.4,1463.7 C318.2,1465 313.7,1465.8 309.3,1466.6 C304.9,1467.3 300.1,1468.1 296.2,1468.1 C292.3,1468.2 288.8,1467.8 286.1,1466.9 C283.3,1466 281,1464.5 279.5,1462.8 C278,1461.1 277.1,1458.8 277.1,1456.8 C277.1,1454.8 278.3,1452.6 279.5,1450.9 C280.7,1449.2 282.7,1448 284.3,1446.7 C285.8,1445.4 288.1,1443.8 288.8,1443.2" stroke-width="3.2"/>
<path d="M290.5,1444 C290.5,1445.5 290.3,1453.6 290.5,1455.6 C290.6,1457.7 291,1458.7 291.7,1459.4 C292.3,1460.2 294.3,1460.9 295.6,1461.2 C296.9,1461.6 300.8,1461.8 301.5,1461.9" stroke-width="3.2"/>
<path d="M339.6,1431.6 C339.6,1432.7 339.7,1436.8 339.5,1439 C339.4,1441.1 339.3,1444.1 338.6,1446.1 C337.8,1448.1 336.2,1450.6 334.5,1452.1 C332.8,1453.5 330.2,1454.9 327.1,1456 C324.1,1457.1 316.2,1458.9 314.3,1459.4" stroke-width="3.2"/>
<path d="M343.8,1456 C344.8,1456.4 348.3,1457.1 349.8,1458.6 C351.2,1460.1 352.6,1462.6 352.7,1464.9 C352.8,1467.3 351.8,1470.3 350.4,1472.7 C348.9,1475 346.5,1477.2 343.8,1479.2 C341.1,1481.2 337.9,1482.9 334.3,1484.6 C330.7,1486.2 326.5,1487.9 322.4,1489.1 C318.2,1490.3 313.7,1491.2 309.3,1491.9 C304.9,1492.7 300.1,1493.4 296.2,1493.5 C292.3,1493.5 288.8,1493.2 286.1,1492.3 C283.3,1491.4 281,1489.8 279.5,1488.1 C278,1486.4 277.1,1484.2 277.1,1482.2 C277.1,1480.2 278.3,1477.9 279.5,1476.2 C280.7,1474.5 282.7,1473.3 284.3,1472.1 C285.8,1470.8 288.1,1469.2 288.8,1468.6" stroke-width="3.2"/>
<path d="M290.5,1469.3 C290.5,1470.9 290.3,1478.9 290.5,1481 C290.6,1483 291,1484 291.7,1484.8 C292.3,1485.5 294.3,1486.2 295.6,1486.6 C296.9,1486.9 300.8,1487.2 301.5,1487.3" stroke-width="3.2"/>
<path d="M339.6,1456.9 C339.6,1458 339.7,1462.1 339.5,1464.3 C339.4,1466.5 339.3,1469.5 338.6,1471.5 C337.8,1473.4 336.2,1475.9 334.5,1477.4 C332.8,1478.9 330.2,1480.2 327.1,1481.3 C324.1,1482.4 316.2,1484.3 314.3,1484.8" stroke-width="3.2"/>
<path d="M343.8,1481.3 C344.8,1481.8 348.3,1482.5 349.8,1484 C351.2,1485.4 352.6,1487.9 352.7,1490.3 C352.8,1492.6 351.8,1495.6 350.4,1498 C348.9,1500.4 346.5,1502.6 343.8,1504.6 C341.1,1506.5 337.9,1508.3 334.3,1509.9 C330.7,1511.6 326.5,1513.2 322.4,1514.4 C318.2,1515.7 313.7,1516.6 309.3,1517.3 C304.9,1518 300.1,1518.8 296.2,1518.8 C292.3,1518.9 288.8,1518.5 286.1,1517.6 C283.3,1516.8 281,1515.2 279.5,1513.5 C278,1511.8 277.1,1509.5 277.1,1507.5 C277.1,1505.5 278.3,1503.3 279.5,1501.6 C280.7,1499.9 282.7,1498.7 284.3,1497.4 C285.8,1496.1 288.1,1494.5 288.8,1494" stroke-width="3.2"/>
<path d="M290.5,1494.7 C290.5,1496.2 290.3,1504.3 290.5,1506.3 C290.6,1508.4 291,1509.4 291.7,1510.1 C292.3,1510.9 294.3,1511.6 295.6,1511.9 C296.9,1512.3 300.8,1512.6 301.5,1512.6" stroke-width="3.2"/>
<path d="M339.6,1482.3 C339.6,1483.4 339.7,1487.5 339.5,1489.7 C339.4,1491.9 339.3,1494.9 338.6,1496.8 C337.8,1498.8 336.2,1501.3 334.5,1502.8 C332.8,1504.3 330.2,1505.6 327.1,1506.7 C324.1,1507.8 316.2,1509.6 314.3,1510.1" stroke-width="3.2"/>
<path d="M343.8,1506.7 C344.8,1507.1 348.3,1507.8 349.8,1509.3 C351.2,1510.8 352.6,1513.3 352.7,1515.6 C352.8,1518 351.8,1521 350.4,1523.4 C348.9,1525.7 346.5,1527.9 343.8,1529.9 C341.1,1531.9 337.9,1533.6 334.3,1535.3 C330.7,1536.9 326.5,1538.6 322.4,1539.8 C318.2,1541 313.7,1541.9 309.3,1542.6 C304.9,1543.4 300.1,1544.1 296.2,1544.2 C292.3,1544.3 288.8,1543.9 286.1,1543 C283.3,1542.1 281,1540.5 279.5,1538.8 C278,1537.2 277.1,1534.9 277.1,1532.9 C277.1,1530.9 278.3,1528.6 279.5,1526.9 C280.7,1525.2 282.7,1524 284.3,1522.8 C285.8,1521.5 288.1,1519.9 288.8,1519.3" stroke-width="3.2"/>
<path d="M290.5,1520 C290.5,1521.6 290.3,1529.6 290.5,1531.7 C290.6,1533.8 291,1534.8 291.7,1535.5 C292.3,1536.3 294.3,1537 295.6,1537.3 C296.9,1537.6 300.8,1537.9 301.5,1538" stroke-width="3.2"/>
<path d="M339.6,1507.6 C339.6,1508.8 339.7,1512.8 339.5,1515 C339.4,1517.2 339.3,1520.2 338.6,1522.2 C337.8,1524.1 336.2,1526.6 334.5,1528.1 C332.8,1529.6 330.2,1530.9 327.1,1532.1 C324.1,1533.2 316.2,1535 314.3,1535.5" stroke-width="3.2"/>
<path d="M343.8,1532 C344.8,1532.5 348.3,1533.2 349.8,1534.7 C351.2,1536.2 352.6,1538.6 352.7,1541 C352.8,1543.3 351.8,1546.3 350.4,1548.7 C348.9,1551.1 346.5,1553.3 343.8,1555.3 C341.1,1557.2 337.9,1559 334.3,1560.6 C330.7,1562.3 326.5,1563.9 322.4,1565.1 C318.2,1566.4 313.7,1567.3 309.3,1568 C304.9,1568.7 300.1,1569.5 296.2,1569.5 C292.3,1569.6 288.8,1569.3 286.1,1568.4 C283.3,1567.5 281,1565.9 279.5,1564.2 C278,1562.5 277.1,1560.2 277.1,1558.2 C277.1,1556.3 278.3,1554 279.5,1552.3 C280.7,1550.6 282.7,1549.4 284.3,1548.1 C285.8,1546.9 288.1,1545.2 288.8,1544.7" stroke-width="3.2"/>
<path d="M290.5,1545.4 C290.5,1546.9 290.3,1555 290.5,1557 C290.6,1559.1 291,1560.1 291.7,1560.9 C292.3,1561.6 294.3,1562.3 295.6,1562.6 C296.9,1563 300.8,1563.3 301.5,1563.4" stroke-width="3.2"/>
<path d="M339.6,1533 C339.6,1534.1 339.7,1538.2 339.5,1540.4 C339.4,1542.6 339.3,1545.6 338.6,1547.5 C337.8,1549.5 336.2,1552 334.5,1553.5 C332.8,1555 330.2,1556.3 327.1,1557.4 C324.1,1558.5 316.2,1560.3 314.3,1560.9" stroke-width="3.2"/>
<path d="M343.8,1557.4 C344.8,1557.8 348.3,1558.5 349.8,1560 C351.2,1561.5 352.6,1564 352.7,1566.3 C352.8,1568.7 351.8,1571.7 350.4,1574.1 C348.9,1576.5 346.5,1578.6 343.8,1580.6 C341.1,1582.6 337.9,1584.3 334.3,1586 C330.7,1587.6 326.5,1589.3 322.4,1590.5 C318.2,1591.7 313.7,1592.6 309.3,1593.4 C304.9,1594.1 300.1,1594.8 296.2,1594.9 C292.3,1595 288.8,1594.6 286.1,1593.7 C283.3,1592.8 281,1591.2 279.5,1589.5 C278,1587.9 277.1,1585.6 277.1,1583.6 C277.1,1581.6 278.3,1579.3 279.5,1577.6 C280.7,1576 282.7,1574.7 284.3,1573.5 C285.8,1572.2 288.1,1570.6 288.8,1570" stroke-width="3.2"/>
<path d="M290.5,1570.7 C290.5,1572.3 290.3,1580.3 290.5,1582.4 C290.6,1584.5 291,1585.5 291.7,1586.2 C292.3,1587 294.3,1587.7 295.6,1588 C296.9,1588.3 300.8,1588.6 301.5,1588.7" stroke-width="3.2"/>
<path d="M339.6,1558.4 C339.6,1559.5 339.7,1563.6 339.5,1565.7 C339.4,1567.9 339.3,1570.9 338.6,1572.9 C337.8,1574.8 336.2,1577.4 334.5,1578.8 C332.8,1580.3 330.2,1581.7 327.1,1582.8 C324.1,1583.9 316.2,1585.7 314.3,1586.2" stroke-width="3.2"/>
<path d="M343.8,1582.8 C344.8,1583.2 348.3,1583.9 349.8,1585.4 C351.2,1586.9 352.6,1589.3 352.7,1591.7 C352.8,1594 351.8,1597 350.4,1599.4 C348.9,1601.8 346.5,1604 343.8,1606 C341.1,1608 337.9,1609.7 334.3,1611.3 C330.7,1613 326.5,1614.6 322.4,1615.9 C318.2,1617.1 313.7,1618 309.3,1618.7 C304.9,1619.4 300.1,1620.2 296.2,1620.3 C292.3,1620.3 288.8,1620 286.1,1619.1 C283.3,1618.2 281,1616.6 279.5,1614.9 C278,1613.2 277.1,1610.9 277.1,1609 C277.1,1607 278.3,1604.7 279.5,1603 C280.7,1601.3 282.7,1600.1 284.3,1598.8 C285.8,1597.6 288.1,1596 288.8,1595.4" stroke-width="3.2"/>
<path d="M290.5,1596.1 C290.5,1597.6 290.3,1605.7 290.5,1607.8 C290.6,1609.8 291,1610.8 291.7,1611.6 C292.3,1612.3 294.3,1613 295.6,1613.4 C296.9,1613.7 300.8,1614 301.5,1614.1" stroke-width="3.2"/>
<path d="M339.6,1583.7 C339.6,1584.8 339.7,1588.9 339.5,1591.1 C339.4,1593.3 339.3,1596.3 338.6,1598.2 C337.8,1600.2 336.2,1602.7 334.5,1604.2 C332.8,1605.7 330.2,1607 327.1,1608.1 C324.1,1609.2 316.2,1611.1 314.3,1611.6" stroke-width="3.2"/>
<path d="M343.8,1608.1 C344.8,1608.6 348.3,1609.2 349.8,1610.7 C351.2,1612.2 352.6,1614.7 352.7,1617 C352.8,1619.4 351.8,1622.4 350.4,1624.8 C348.9,1627.2 346.5,1629.3 343.8,1631.3 C341.1,1633.3 337.9,1635 334.3,1636.7 C330.7,1638.3 326.5,1640 322.4,1641.2 C318.2,1642.4 313.7,1643.3 309.3,1644.1 C304.9,1644.8 300.1,1645.6 296.2,1645.6 C292.3,1645.7 288.8,1645.3 286.1,1644.4 C283.3,1643.5 281,1641.9 279.5,1640.3 C278,1638.6 277.1,1636.3 277.1,1634.3 C277.1,1632.3 278.3,1630 279.5,1628.4 C280.7,1626.7 282.7,1625.5 284.3,1624.2 C285.8,1622.9 288.1,1621.3 288.8,1620.7" stroke-width="3.2"/>
<path d="M290.5,1621.4 C290.5,1623 290.3,1631.1 290.5,1633.1 C290.6,1635.2 291,1636.2 291.7,1636.9 C292.3,1637.7 294.3,1638.4 295.6,1638.7 C296.9,1639 300.8,1639.3 301.5,1639.4" stroke-width="3.2"/>
<path d="M339.6,1609.1 C339.6,1610.2 339.7,1614.3 339.5,1616.4 C339.4,1618.6 339.3,1621.6 338.6,1623.6 C337.8,1625.6 336.2,1628.1 334.5,1629.5 C332.8,1631 330.2,1632.4 327.1,1633.5 C324.1,1634.6 316.2,1636.4 314.3,1636.9" stroke-width="3.2"/>
<path d="M343.8,1633.5 C344.8,1633.9 348.3,1634.6 349.8,1636.1 C351.2,1637.6 352.6,1640.1 352.7,1642.4 C352.8,1644.7 351.8,1647.8 350.4,1650.1 C348.9,1652.5 346.5,1654.7 343.8,1656.7 C341.1,1658.7 337.9,1660.4 334.3,1662 C330.7,1663.7 326.5,1665.3 322.4,1666.6 C318.2,1667.8 313.7,1668.7 309.3,1669.4 C304.9,1670.2 300.1,1670.9 296.2,1671 C292.3,1671 288.8,1670.7 286.1,1669.8 C283.3,1668.9 281,1667.3 279.5,1665.6 C278,1663.9 277.1,1661.6 277.1,1659.7 C277.1,1657.7 278.3,1655.4 279.5,1653.7 C280.7,1652 282.7,1650.8 284.3,1649.5 C285.8,1648.3 288.1,1646.7 288.8,1646.1" stroke-width="3.2"/>
<path d="M290.5,1646.8 C290.5,1648.4 290.3,1656.4 290.5,1658.5 C290.6,1660.5 291,1661.5 291.7,1662.3 C292.3,1663 294.3,1663.7 295.6,1664.1 C296.9,1664.4 300.8,1664.7 301.5,1664.8" stroke-width="3.2"/>
<path d="M339.6,1634.4 C339.6,1635.5 339.7,1639.6 339.5,1641.8 C339.4,1644 339.3,1647 338.6,1648.9 C337.8,1650.9 336.2,1653.4 334.5,1654.9 C332.8,1656.4 330.2,1657.7 327.1,1658.8 C324.1,1659.9 316.2,1661.8 314.3,1662.3" stroke-width="3.2"/>
<path d="M343.8,1658.8 C344.8,1659.3 348.3,1660 349.8,1661.4 C351.2,1662.9 352.6,1665.4 352.7,1667.8 C352.8,1670.1 351.8,1673.1 350.4,1675.5 C348.9,1677.9 346.5,1680.1 343.8,1682 C341.1,1684 337.9,1685.7 334.3,1687.4 C330.7,1689 326.5,1690.7 322.4,1691.9 C318.2,1693.2 313.7,1694 309.3,1694.8 C304.9,1695.5 300.1,1696.3 296.2,1696.3 C292.3,1696.4 288.8,1696 286.1,1695.1 C283.3,1694.2 281,1692.7 279.5,1691 C278,1689.3 277.1,1687 277.1,1685 C277.1,1683 278.3,1680.7 279.5,1679.1 C280.7,1677.4 282.7,1676.2 284.3,1674.9 C285.8,1673.6 288.1,1672 288.8,1671.4" stroke-width="3.2"/>
<path d="M290.5,1672.2 C290.5,1673.7 290.3,1681.8 290.5,1683.8 C290.6,1685.9 291,1686.9 291.7,1687.6 C292.3,1688.4 294.3,1689.1 295.6,1689.4 C296.9,1689.8 300.8,1690 301.5,1690.1" stroke-width="3.2"/>
<path d="M339.6,1659.8 C339.6,1660.9 339.7,1665 339.5,1667.2 C339.4,1669.3 339.3,1672.3 338.6,1674.3 C337.8,1676.3 336.2,1678.8 334.5,1680.3 C332.8,1681.7 330.2,1683.1 327.1,1684.2 C324.1,1685.3 316.2,1687.1 314.3,1687.6" stroke-width="3.2"/>
<path d="M343.8,1684.2 C344.8,1684.6 348.3,1685.3 349.8,1686.8 C351.2,1688.3 352.6,1690.8 352.7,1693.1 C352.8,1695.4 351.8,1698.5 350.4,1700.8 C348.9,1703.2 346.5,1705.4 343.8,1707.4 C341.1,1709.4 337.9,1711.1 334.3,1712.8 C330.7,1714.4 326.5,1716 322.4,1717.3 C318.2,1718.5 313.7,1719.4 309.3,1720.1 C304.9,1720.9 300.1,1721.6 296.2,1721.7 C292.3,1721.7 288.8,1721.4 286.1,1720.5 C283.3,1719.6 281,1718 279.5,1716.3 C278,1714.6 277.1,1712.4 277.1,1710.4 C277.1,1708.4 278.3,1706.1 279.5,1704.4 C280.7,1702.7 282.7,1701.5 284.3,1700.3 C285.8,1699 288.1,1697.4 288.8,1696.8" stroke-width="3.2"/>
<path d="M290.5,1697.5 C290.5,1699.1 290.3,1707.1 290.5,1709.2 C290.6,1711.2 291,1712.2 291.7,1713 C292.3,1713.7 294.3,1714.4 295.6,1714.8 C296.9,1715.1 300.8,1715.4 301.5,1715.5" stroke-width="3.2"/>
<path d="M339.6,1685.1 C339.6,1686.2 339.7,1690.3 339.5,1692.5 C339.4,1694.7 339.3,1697.7 338.6,1699.7 C337.8,1701.6 336.2,1704.1 334.5,1705.6 C332.8,1707.1 330.2,1708.4 327.1,1709.5 C324.1,1710.6 316.2,1712.5 314.3,1713" stroke-width="3.2"/>
<path d="M343.8,1709.5 C344.8,1710 348.3,1710.7 349.8,1712.2 C351.2,1713.6 352.6,1716.1 352.7,1718.5 C352.8,1720.8 351.8,1723.8 350.4,1726.2 C348.9,1728.6 346.5,1730.8 343.8,1732.7 C341.1,1734.7 337.9,1736.5 334.3,1738.1 C330.7,1739.8 326.5,1741.4 322.4,1742.6 C318.2,1743.9 313.7,1744.8 309.3,1745.5 C304.9,1746.2 300.1,1747 296.2,1747 C292.3,1747.1 288.8,1746.7 286.1,1745.8 C283.3,1745 281,1743.4 279.5,1741.7 C278,1740 277.1,1737.7 277.1,1735.7 C277.1,1733.7 278.3,1731.5 279.5,1729.8 C280.7,1728.1 282.7,1726.9 284.3,1725.6 C285.8,1724.3 288.1,1722.7 288.8,1722.2" stroke-width="3.2"/>
<path d="M290.5,1722.9 C290.5,1724.4 290.3,1732.5 290.5,1734.5 C290.6,1736.6 291,1737.6 291.7,1738.3 C292.3,1739.1 294.3,1739.8 295.6,1740.1 C296.9,1740.5 300.8,1740.7 301.5,1740.8" stroke-width="3.2"/>
<path d="M339.6,1710.5 C339.6,1711.6 339.7,1715.7 339.5,1717.9 C339.4,1720 339.3,1723 338.6,1725 C337.8,1727 336.2,1729.5 334.5,1731 C332.8,1732.4 330.2,1733.8 327.1,1734.9 C324.1,1736 316.2,1737.8 314.3,1738.3" stroke-width="3.2"/>
<path d="M343.8,1734.9 C344.8,1735.3 348.3,1736 349.8,1737.5 C351.2,1739 352.6,1741.5 352.7,1743.8 C352.8,1746.2 351.8,1749.2 350.4,1751.6 C348.9,1753.9 346.5,1756.1 343.8,1758.1 C341.1,1760.1 337.9,1761.8 334.3,1763.5 C330.7,1765.1 326.5,1766.8 322.4,1768 C318.2,1769.2 313.7,1770.1 309.3,1770.8 C304.9,1771.6 300.1,1772.3 296.2,1772.4 C292.3,1772.4 288.8,1772.1 286.1,1771.2 C283.3,1770.3 281,1768.7 279.5,1767 C278,1765.3 277.1,1763.1 277.1,1761.1 C277.1,1759.1 278.3,1756.8 279.5,1755.1 C280.7,1753.4 282.7,1752.2 284.3,1751 C285.8,1749.7 288.1,1748.1 288.8,1747.5" stroke-width="3.2"/>
<path d="M290.5,1748.2 C290.5,1749.8 290.3,1757.8 290.5,1759.9 C290.6,1762 291,1763 291.7,1763.7 C292.3,1764.4 294.3,1765.2 295.6,1765.5 C296.9,1765.8 300.8,1766.1 301.5,1766.2" stroke-width="3.2"/>
<path d="M339.6,1735.8 C339.6,1736.9 339.7,1741 339.5,1743.2 C339.4,1745.4 339.3,1748.4 338.6,1750.4 C337.8,1752.3 336.2,1754.8 334.5,1756.3 C332.8,1757.8 330.2,1759.1 327.1,1760.2 C324.1,1761.4 316.2,1763.2 314.3,1763.7" stroke-width="3.2"/>
<path d="M343.8,1760.2 C344.8,1760.7 348.3,1761.4 349.8,1762.9 C351.2,1764.4 352.6,1766.8 352.7,1769.2 C352.8,1771.5 351.8,1774.5 350.4,1776.9 C348.9,1779.3 346.5,1781.5 343.8,1783.5 C341.1,1785.4 337.9,1787.2 334.3,1788.8 C330.7,1790.5 326.5,1792.1 322.4,1793.3 C318.2,1794.6 313.7,1795.5 309.3,1796.2 C304.9,1796.9 300.1,1797.7 296.2,1797.7 C292.3,1797.8 288.8,1797.4 286.1,1796.6 C283.3,1795.7 281,1794.1 279.5,1792.4 C278,1790.7 277.1,1788.4 277.1,1786.4 C277.1,1784.5 278.3,1782.2 279.5,1780.5 C280.7,1778.8 282.7,1777.6 284.3,1776.3 C285.8,1775 288.1,1773.4 288.8,1772.9" stroke-width="3.2"/>
<path d="M290.5,1773.6 C290.5,1775.1 290.3,1783.2 290.5,1785.2 C290.6,1787.3 291,1788.3 291.7,1789.1 C292.3,1789.8 294.3,1790.5 295.6,1790.8 C296.9,1791.2 300.8,1791.5 301.5,1791.6" stroke-width="3.2"/>
<path d="M339.6,1761.2 C339.6,1762.3 339.7,1766.4 339.5,1768.6 C339.4,1770.8 339.3,1773.8 338.6,1775.7 C337.8,1777.7 336.2,1780.2 334.5,1781.7 C332.8,1783.2 330.2,1784.5 327.1,1785.6 C324.1,1786.7 316.2,1788.5 314.3,1789.1" stroke-width="3.2"/>
<path d="M343.8,1785.6 C344.8,1786 348.3,1786.7 349.8,1788.2 C351.2,1789.7 352.6,1792.2 352.7,1794.5 C352.8,1796.9 351.8,1799.9 350.4,1802.3 C348.9,1804.6 346.5,1806.8 343.8,1808.8 C341.1,1810.8 337.9,1812.5 334.3,1814.2 C330.7,1815.8 326.5,1817.5 322.4,1818.7 C318.2,1819.9 313.7,1820.8 309.3,1821.6 C304.9,1822.3 300.1,1823 296.2,1823.1 C292.3,1823.2 288.8,1822.8 286.1,1821.9 C283.3,1821 281,1819.4 279.5,1817.7 C278,1816.1 277.1,1813.8 277.1,1811.8 C277.1,1809.8 278.3,1807.5 279.5,1805.8 C280.7,1804.2 282.7,1802.9 284.3,1801.7 C285.8,1800.4 288.1,1798.8 288.8,1798.2" stroke-width="3.2"/>
<path d="M290.5,1798.9 C290.5,1800.5 290.3,1808.5 290.5,1810.6 C290.6,1812.7 291,1813.7 291.7,1814.4 C292.3,1815.2 294.3,1815.9 295.6,1816.2 C296.9,1816.5 300.8,1816.8 301.5,1816.9" stroke-width="3.2"/>
<path d="M339.6,1786.6 C339.6,1787.7 339.7,1791.8 339.5,1793.9 C339.4,1796.1 339.3,1799.1 338.6,1801.1 C337.8,1803 336.2,1805.5 334.5,1807 C332.8,1808.5 330.2,1809.8 327.1,1811 C324.1,1812.1 316.2,1813.9 314.3,1814.4" stroke-width="3.2"/>
<path d="M343.8,1811 C344.8,1811.4 348.3,1812.1 349.8,1813.6 C351.2,1815.1 352.6,1817.5 352.7,1819.9 C352.8,1822.2 351.8,1825.2 350.4,1827.6 C348.9,1830 346.5,1832.2 343.8,1834.2 C341.1,1836.2 337.9,1837.9 334.3,1839.5 C330.7,1841.2 326.5,1842.8 322.4,1844.1 C318.2,1845.3 313.7,1846.2 309.3,1846.9 C304.9,1847.6 300.1,1848.4 296.2,1848.5 C292.3,1848.5 288.8,1848.2 286.1,1847.3 C283.3,1846.4 281,1844.8 279.5,1843.1 C278,1841.4 277.1,1839.1 277.1,1837.1 C277.1,1835.2 278.3,1832.9 279.5,1831.2 C280.7,1829.5 282.7,1828.3 284.3,1827 C285.8,1825.8 288.1,1824.1 288.8,1823.6" stroke-width="3.2"/>
<path d="M290.5,1824.3 C290.5,1825.8 290.3,1833.9 290.5,1836 C290.6,1838 291,1839 291.7,1839.8 C292.3,1840.5 294.3,1841.2 295.6,1841.6 C296.9,1841.9 300.8,1842.2 301.5,1842.3" stroke-width="3.2"/>
<path d="M339.6,1811.9 C339.6,1813 339.7,1817.1 339.5,1819.3 C339.4,1821.5 339.3,1824.5 338.6,1826.4 C337.8,1828.4 336.2,1830.9 334.5,1832.4 C332.8,1833.9 330.2,1835.2 327.1,1836.3 C324.1,1837.4 316.2,1839.2 314.3,1839.8" stroke-width="3.2"/>
<path d="M343.8,1836.3 C344.8,1836.7 348.3,1837.4 349.8,1838.9 C351.2,1840.4 352.6,1842.9 352.7,1845.2 C352.8,1847.6 351.8,1850.6 350.4,1853 C348.9,1855.4 346.5,1857.5 343.8,1859.5 C341.1,1861.5 337.9,1863.2 334.3,1864.9 C330.7,1866.5 326.5,1868.2 322.4,1869.4 C318.2,1870.6 313.7,1871.5 309.3,1872.3 C304.9,1873 300.1,1873.8 296.2,1873.8 C292.3,1873.9 288.8,1873.5 286.1,1872.6 C283.3,1871.7 281,1870.1 279.5,1868.5 C278,1866.8 277.1,1864.5 277.1,1862.5 C277.1,1860.5 278.3,1858.2 279.5,1856.5 C280.7,1854.9 282.7,1853.7 284.3,1852.4 C285.8,1851.1 288.1,1849.5 288.8,1848.9" stroke-width="3.2"/>
<path d="M290.5,1849.6 C290.5,1851.2 290.3,1859.2 290.5,1861.3 C290.6,1863.4 291,1864.4 291.7,1865.1 C292.3,1865.9 294.3,1866.6 295.6,1866.9 C296.9,1867.2 300.8,1867.5 301.5,1867.6" stroke-width="3.2"/>
<path d="M339.6,1837.3 C339.6,1838.4 339.7,1842.5 339.5,1844.6 C339.4,1846.8 339.3,1849.8 338.6,1851.8 C337.8,1853.8 336.2,1856.3 334.5,1857.7 C332.8,1859.2 330.2,1860.6 327.1,1861.7 C324.1,1862.8 316.2,1864.6 314.3,1865.1" stroke-width="3.2"/>
<path d="M290.5,1873.5 C290.5,1874.9 290.2,1882.3 290.5,1884.5 C290.8,1886.7 291.8,1888.7 292.9,1889.9 C293.9,1891.1 296.7,1892.7 298.6,1893.5 C300.4,1894.2 304.7,1895 306.9,1895.2 C309.1,1895.5 313,1895.5 315.2,1895.5 C317.5,1895.4 321.3,1895.2 323.6,1894.8 C325.8,1894.3 330,1893.2 331.9,1892.4 C333.8,1891.5 336.6,1889.4 337.6,1888.3 C338.7,1887.3 339.4,1888.1 339.6,1884.5 C339.9,1880.9 339.6,1864.4 339.6,1861.3" stroke-width="3.2"/>
</g>
<g transform="translate(252.5,125)">
<path d="M248.8,1072.8 A66.2,26.4 0 0 1 381.2,1072.8" stroke-width="3.2"/>
<path d="M248.8,1072.8 A66.2,27.6 0 0 0 293.3,1098.9" stroke-width="3.2"/>
<path d="M381.2,1072.8 A66.2,27.6 0 0 1 326.5,1100" stroke-width="3.2"/>
<path d="M292.4,1073.1 L302.8,1065 L327.7,1065 L337.2,1073.1 L327.7,1081.6 L302.8,1081.6 Z" stroke-width="3.2"/>
<path d="M303.8,1065.3 L303.8,1081.3" stroke-width="3.2"/>
<path d="M327.1,1065.3 L327.1,1081.3" stroke-width="3.2"/>
<path d="M250.6,1080.8 L275.8,1114.9" stroke-width="3.2"/>
<path d="M379.4,1080.8 L354.1,1114.9" stroke-width="3.2"/>
<path d="M275.8,1114.9 C277,1115.9 279.8,1119 282.9,1120.7 C286.1,1122.5 289.2,1124.3 294.5,1125.5 C299.9,1126.7 308,1127.9 314.9,1127.9 C321.9,1127.9 330.6,1126.7 336,1125.5 C341.4,1124.3 344.3,1122.5 347.3,1120.7 C350.3,1119 353,1115.9 354.1,1114.9" stroke-width="3.2"/>
<path d="M276.1,1114.9 L276.1,1269.2" stroke-width="3.2"/>
<path d="M353.8,1114.9 L353.8,1269.2" stroke-width="3.2"/>
<path d="M276.1,1269.2 C276.8,1270 277.7,1272.5 279.9,1274.2 C282.2,1275.8 285.8,1277.8 289.6,1279.1 C293.4,1280.4 298.6,1281.3 302.8,1281.9 C307.1,1282.6 310.8,1282.9 314.9,1282.9 C319.1,1282.9 323.4,1282.6 327.7,1281.9 C332.1,1281.3 337.3,1280.3 341,1279.1 C344.6,1277.9 347.5,1276.3 349.6,1274.7 C351.7,1273 353.1,1270.1 353.8,1269.2" stroke-width="3.2"/>
<path d="M277,1270.8 C277.9,1273 282,1283 283.8,1287.4 C285.6,1291.8 288.8,1300.9 290.4,1303.7 C291.9,1306.4 293.9,1307.2 295.4,1308 C296.9,1308.8 300.7,1309.6 301.5,1309.8" stroke-width="3.2"/>
<path d="M348.1,1276.1 C347.3,1278 344.7,1283.9 343,1287.1 C341.2,1290.3 340.1,1292.8 337.7,1295.4 C335.3,1297.9 332.4,1300.4 328.5,1302.4 C324.7,1304.3 316.8,1306.5 314.4,1307.3" stroke-width="3.2"/>
<path d="M343.8,1278.5 C344.8,1278.9 348.3,1279.6 349.8,1281.1 C351.2,1282.6 352.6,1285.1 352.7,1287.4 C352.8,1289.8 351.8,1292.8 350.4,1295.2 C348.9,1297.5 346.5,1299.7 343.8,1301.7 C341.1,1303.7 337.9,1305.4 334.3,1307.1 C330.7,1308.7 326.5,1310.4 322.4,1311.6 C318.2,1312.8 313.7,1313.7 309.3,1314.5 C304.9,1315.2 300.1,1315.9 296.2,1316 C292.3,1316.1 288.8,1315.7 286.1,1314.8 C283.3,1313.9 281,1312.3 279.5,1310.6 C278,1309 277.1,1306.7 277.1,1304.7 C277.1,1302.7 278.3,1300.4 279.5,1298.7 C280.7,1297.1 283.5,1295.3 284.3,1294.6" stroke-width="3.2"/>
<path d="M343.8,1303.9 C344.8,1304.3 348.3,1305 349.8,1306.5 C351.2,1308 352.6,1310.4 352.7,1312.8 C352.8,1315.1 351.8,1318.1 350.4,1320.5 C348.9,1322.9 346.5,1325.1 343.8,1327.1 C341.1,1329.1 337.9,1330.8 334.3,1332.4 C330.7,1334.1 326.5,1335.7 322.4,1337 C318.2,1338.2 313.7,1339.1 309.3,1339.8 C304.9,1340.5 300.1,1341.3 296.2,1341.4 C292.3,1341.4 288.8,1341.1 286.1,1340.2 C283.3,1339.3 281,1337.7 279.5,1336 C278,1334.3 277.1,1332 277.1,1330 C277.1,1328.1 278.3,1325.8 279.5,1324.1 C280.7,1322.4 282.7,1321.2 284.3,1319.9 C285.8,1318.7 288.1,1317 288.8,1316.5" stroke-width="3.2"/>
<path d="M290.5,1317.2 C290.5,1318.7 290.3,1326.8 290.5,1328.9 C290.6,1330.9 291,1331.9 291.7,1332.7 C292.3,1333.4 294.3,1334.1 295.6,1334.5 C296.9,1334.8 300.8,1335.1 301.5,1335.2" stroke-width="3.2"/>
<path d="M339.6,1304.8 C339.6,1305.9 339.7,1310 339.5,1312.2 C339.4,1314.4 339.3,1317.4 338.6,1319.3 C337.8,1321.3 336.2,1323.8 334.5,1325.3 C332.8,1326.8 330.2,1328.1 327.1,1329.2 C324.1,1330.3 316.2,1332.1 314.3,1332.7" stroke-width="3.2"/>
<path d="M343.8,1329.2 C344.8,1329.6 348.3,1330.3 349.8,1331.8 C351.2,1333.3 352.6,1335.8 352.7,1338.1 C352.8,1340.5 351.8,1343.5 350.4,1345.9 C348.9,1348.3 346.5,1350.4 343.8,1352.4 C341.1,1354.4 337.9,1356.1 334.3,1357.8 C330.7,1359.4 326.5,1361.1 322.4,1362.3 C318.2,1363.5 313.7,1364.4 309.3,1365.2 C304.9,1365.9 300.1,1366.7 296.2,1366.7 C292.3,1366.8 288.8,1366.4 286.1,1365.5 C283.3,1364.6 281,1363 279.5,1361.4 C278,1359.7 277.1,1357.4 277.1,1355.4 C277.1,1353.4 278.3,1351.1 279.5,1349.4 C280.7,1347.8 282.7,1346.6 284.3,1345.3 C285.8,1344 288.1,1342.4 288.8,1341.8" stroke-width="3.2"/>
<path d="M290.5,1342.5 C290.5,1344.1 290.3,1352.1 290.5,1354.2 C290.6,1356.3 291,1357.3 291.7,1358 C292.3,1358.8 294.3,1359.5 295.6,1359.8 C296.9,1360.1 300.8,1360.4 301.5,1360.5" stroke-width="3.2"/>
<path d="M339.6,1330.2 C339.6,1331.3 339.7,1335.4 339.5,1337.5 C339.4,1339.7 339.3,1342.7 338.6,1344.7 C337.8,1346.7 336.2,1349.2 334.5,1350.6 C332.8,1352.1 330.2,1353.5 327.1,1354.6 C324.1,1355.7 316.2,1357.5 314.3,1358" stroke-width="3.2"/>
<path d="M343.8,1354.6 C344.8,1355 348.3,1355.7 349.8,1357.2 C351.2,1358.7 352.6,1361.2 352.7,1363.5 C352.8,1365.8 351.8,1368.9 350.4,1371.2 C348.9,1373.6 346.5,1375.8 343.8,1377.8 C341.1,1379.8 337.9,1381.5 334.3,1383.1 C330.7,1384.8 326.5,1386.4 322.4,1387.7 C318.2,1388.9 313.7,1389.8 309.3,1390.5 C304.9,1391.3 300.1,1392 296.2,1392.1 C292.3,1392.1 288.8,1391.8 286.1,1390.9 C283.3,1390 281,1388.4 279.5,1386.7 C278,1385 277.1,1382.7 277.1,1380.8 C277.1,1378.8 278.3,1376.5 279.5,1374.8 C280.7,1373.1 282.7,1371.9 284.3,1370.6 C285.8,1369.4 288.1,1367.8 288.8,1367.2" stroke-width="3.2"/>
<path d="M290.5,1367.9 C290.5,1369.5 290.3,1377.5 290.5,1379.6 C290.6,1381.6 291,1382.6 291.7,1383.4 C292.3,1384.1 294.3,1384.8 295.6,1385.2 C296.9,1385.5 300.8,1385.8 301.5,1385.9" stroke-width="3.2"/>
<path d="M339.6,1355.5 C339.6,1356.6 339.7,1360.7 339.5,1362.9 C339.4,1365.1 339.3,1368.1 338.6,1370 C337.8,1372 336.2,1374.5 334.5,1376 C332.8,1377.5 330.2,1378.8 327.1,1379.9 C324.1,1381 316.2,1382.9 314.3,1383.4" stroke-width="3.2"/>
<path d="M343.8,1379.9 C344.8,1380.4 348.3,1381.1 349.8,1382.5 C351.2,1384 352.6,1386.5 352.7,1388.8 C352.8,1391.2 351.8,1394.2 350.4,1396.6 C348.9,1399 346.5,1401.2 343.8,1403.1 C341.1,1405.1 337.9,1406.8 334.3,1408.5 C330.7,1410.1 326.5,1411.8 322.4,1413 C318.2,1414.2 313.7,1415.1 309.3,1415.9 C304.9,1416.6 300.1,1417.4 296.2,1417.4 C292.3,1417.5 288.8,1417.1 286.1,1416.2 C283.3,1415.3 281,1413.7 279.5,1412.1 C278,1410.4 277.1,1408.1 277.1,1406.1 C277.1,1404.1 278.3,1401.8 279.5,1400.2 C280.7,1398.5 282.7,1397.3 284.3,1396 C285.8,1394.7 288.1,1393.1 288.8,1392.5" stroke-width="3.2"/>
<path d="M290.5,1393.3 C290.5,1394.8 290.3,1402.9 290.5,1404.9 C290.6,1407 291,1408 291.7,1408.7 C292.3,1409.5 294.3,1410.2 295.6,1410.5 C296.9,1410.8 300.8,1411.1 301.5,1411.2" stroke-width="3.2"/>
<path d="M339.6,1380.9 C339.6,1382 339.7,1386.1 339.5,1388.3 C339.4,1390.4 339.3,1393.4 338.6,1395.4 C337.8,1397.4 336.2,1399.9 334.5,1401.3 C332.8,1402.8 330.2,1404.2 327.1,1405.3 C324.1,1406.4 316.2,1408.2 314.3,1408.7" stroke-width="3.2"/>
<path d="M343.8,1405.3 C344.8,1405.7 348.3,1406.4 349.8,1407.9 C351.2,1409.4 352.6,1411.9 352.7,1414.2 C352.8,1416.5 351.8,1419.6 350.4,1421.9 C348.9,1424.3 346.5,1426.5 343.8,1428.5 C341.1,1430.5 337.9,1432.2 334.3,1433.8 C330.7,1435.5 326.5,1437.1 322.4,1438.4 C318.2,1439.6 313.7,1440.5 309.3,1441.2 C304.9,1442 300.1,1442.7 296.2,1442.8 C292.3,1442.8 288.8,1442.5 286.1,1441.6 C283.3,1440.7 281,1439.1 279.5,1437.4 C278,1435.7 277.1,1433.4 277.1,1431.5 C277.1,1429.5 278.3,1427.2 279.5,1425.5 C280.7,1423.8 282.7,1422.6 284.3,1421.3 C285.8,1420.1 288.1,1418.5 288.8,1417.9" stroke-width="3.2"/>
<path d="M290.5,1418.6 C290.5,1420.2 290.3,1428.2 290.5,1430.3 C290.6,1432.3 291,1433.3 291.7,1434.1 C292.3,1434.8 294.3,1435.5 295.6,1435.9 C296.9,1436.2 300.8,1436.5 301.5,1436.6" stroke-width="3.2"/>
<path d="M339.6,1406.2 C339.6,1407.3 339.7,1411.4 339.5,1413.6 C339.4,1415.8 339.3,1418.8 338.6,1420.8 C337.8,1422.7 336.2,1425.2 334.5,1426.7 C332.8,1428.2 330.2,1429.5 327.1,1430.6 C324.1,1431.7 316.2,1433.6 314.3,1434.1" stroke-width="3.2"/>
<path d="M343.8,1430.6 C344.8,1431.1 348.3,1431.8 349.8,1433.2 C351.2,1434.7 352.6,1437.2 352.7,1439.6 C352.8,1441.9 351.8,1444.9 350.4,1447.3 C348.9,1449.7 346.5,1451.9 343.8,1453.8 C341.1,1455.8 337.9,1457.6 334.3,1459.2 C330.7,1460.8 326.5,1462.5 322.4,1463.7 C318.2,1465 313.7,1465.8 309.3,1466.6 C304.9,1467.3 300.1,1468.1 296.2,1468.1 C292.3,1468.2 288.8,1467.8 286.1,1466.9 C283.3,1466 281,1464.5 279.5,1462.8 C278,1461.1 277.1,1458.8 277.1,1456.8 C277.1,1454.8 278.3,1452.6 279.5,1450.9 C280.7,1449.2 282.7,1448 284.3,1446.7 C285.8,1445.4 288.1,1443.8 288.8,1443.2" stroke-width="3.2"/>
<path d="M290.5,1444 C290.5,1445.5 290.3,1453.6 290.5,1455.6 C290.6,1457.7 291,1458.7 291.7,1459.4 C292.3,1460.2 294.3,1460.9 295.6,1461.2 C296.9,1461.6 300.8,1461.8 301.5,1461.9" stroke-width="3.2"/>
<path d="M339.6,1431.6 C339.6,1432.7 339.7,1436.8 339.5,1439 C339.4,1441.1 339.3,1444.1 338.6,1446.1 C337.8,1448.1 336.2,1450.6 334.5,1452.1 C332.8,1453.5 330.2,1454.9 327.1,1456 C324.1,1457.1 316.2,1458.9 314.3,1459.4" stroke-width="3.2"/>
<path d="M343.8,1456 C344.8,1456.4 348.3,1457.1 349.8,1458.6 C351.2,1460.1 352.6,1462.6 352.7,1464.9 C352.8,1467.3 351.8,1470.3 350.4,1472.7 C348.9,1475 346.5,1477.2 343.8,1479.2 C341.1,1481.2 337.9,1482.9 334.3,1484.6 C330.7,1486.2 326.5,1487.9 322.4,1489.1 C318.2,1490.3 313.7,1491.2 309.3,1491.9 C304.9,1492.7 300.1,1493.4 296.2,1493.5 C292.3,1493.5 288.8,1493.2 286.1,1492.3 C283.3,1491.4 281,1489.8 279.5,1488.1 C278,1486.4 277.1,1484.2 277.1,1482.2 C277.1,1480.2 278.3,1477.9 279.5,1476.2 C280.7,1474.5 282.7,1473.3 284.3,1472.1 C285.8,1470.8 288.1,1469.2 288.8,1468.6" stroke-width="3.2"/>
<path d="M290.5,1469.3 C290.5,1470.9 290.3,1478.9 290.5,1481 C290.6,1483 291,1484 291.7,1484.8 C292.3,1485.5 294.3,1486.2 295.6,1486.6 C296.9,1486.9 300.8,1487.2 301.5,1487.3" stroke-width="3.2"/>
<path d="M339.6,1456.9 C339.6,1458 339.7,1462.1 339.5,1464.3 C339.4,1466.5 339.3,1469.5 338.6,1471.5 C337.8,1473.4 336.2,1475.9 334.5,1477.4 C332.8,1478.9 330.2,1480.2 327.1,1481.3 C324.1,1482.4 316.2,1484.3 314.3,1484.8" stroke-width="3.2"/>
<path d="M343.8,1481.3 C344.8,1481.8 348.3,1482.5 349.8,1484 C351.2,1485.4 352.6,1487.9 352.7,1490.3 C352.8,1492.6 351.8,1495.6 350.4,1498 C348.9,1500.4 346.5,1502.6 343.8,1504.6 C341.1,1506.5 337.9,1508.3 334.3,1509.9 C330.7,1511.6 326.5,1513.2 322.4,1514.4 C318.2,1515.7 313.7,1516.6 309.3,1517.3 C304.9,1518 300.1,1518.8 296.2,1518.8 C292.3,1518.9 288.8,1518.5 286.1,1517.6 C283.3,1516.8 281,1515.2 279.5,1513.5 C278,1511.8 277.1,1509.5 277.1,1507.5 C277.1,1505.5 278.3,1503.3 279.5,1501.6 C280.7,1499.9 282.7,1498.7 284.3,1497.4 C285.8,1496.1 288.1,1494.5 288.8,1494" stroke-width="3.2"/>
<path d="M290.5,1494.7 C290.5,1496.2 290.3,1504.3 290.5,1506.3 C290.6,1508.4 291,1509.4 291.7,1510.1 C292.3,1510.9 294.3,1511.6 295.6,1511.9 C296.9,1512.3 300.8,1512.6 301.5,1512.6" stroke-width="3.2"/>
<path d="M339.6,1482.3 C339.6,1483.4 339.7,1487.5 339.5,1489.7 C339.4,1491.9 339.3,1494.9 338.6,1496.8 C337.8,1498.8 336.2,1501.3 334.5,1502.8 C332.8,1504.3 330.2,1505.6 327.1,1506.7 C324.1,1507.8 316.2,1509.6 314.3,1510.1" stroke-width="3.2"/>
<path d="M343.8,1506.7 C344.8,1507.1 348.3,1507.8 349.8,1509.3 C351.2,1510.8 352.6,1513.3 352.7,1515.6 C352.8,1518 351.8,1521 350.4,1523.4 C348.9,1525.7 346.5,1527.9 343.8,1529.9 C341.1,1531.9 337.9,1533.6 334.3,1535.3 C330.7,1536.9 326.5,1538.6 322.4,1539.8 C318.2,1541 313.7,1541.9 309.3,1542.6 C304.9,1543.4 300.1,1544.1 296.2,1544.2 C292.3,1544.3 288.8,1543.9 286.1,1543 C283.3,1542.1 281,1540.5 279.5,1538.8 C278,1537.2 277.1,1534.9 277.1,1532.9 C277.1,1530.9 278.3,1528.6 279.5,1526.9 C280.7,1525.2 282.7,1524 284.3,1522.8 C285.8,1521.5 288.1,1519.9 288.8,1519.3" stroke-width="3.2"/>
<path d="M290.5,1520 C290.5,1521.6 290.3,1529.6 290.5,1531.7 C290.6,1533.8 291,1534.8 291.7,1535.5 C292.3,1536.3 294.3,1537 295.6,1537.3 C296.9,1537.6 300.8,1537.9 301.5,1538" stroke-width="3.2"/>
<path d="M339.6,1507.6 C339.6,1508.8 339.7,1512.8 339.5,1515 C339.4,1517.2 339.3,1520.2 338.6,1522.2 C337.8,1524.1 336.2,1526.6 334.5,1528.1 C332.8,1529.6 330.2,1530.9 327.1,1532.1 C324.1,1533.2 316.2,1535 314.3,1535.5" stroke-width="3.2"/>
<path d="M343.8,1532 C344.8,1532.5 348.3,1533.2 349.8,1534.7 C351.2,1536.2 352.6,1538.6 352.7,1541 C352.8,1543.3 351.8,1546.3 350.4,1548.7 C348.9,1551.1 346.5,1553.3 343.8,1555.3 C341.1,1557.2 337.9,1559 334.3,1560.6 C330.7,1562.3 326.5,1563.9 322.4,1565.1 C318.2,1566.4 313.7,1567.3 309.3,1568 C304.9,1568.7 300.1,1569.5 296.2,1569.5 C292.3,1569.6 288.8,1569.3 286.1,1568.4 C283.3,1567.5 281,1565.9 279.5,1564.2 C278,1562.5 277.1,1560.2 277.1,1558.2 C277.1,1556.3 278.3,1554 279.5,1552.3 C280.7,1550.6 282.7,1549.4 284.3,1548.1 C285.8,1546.9 288.1,1545.2 288.8,1544.7" stroke-width="3.2"/>
<path d="M290.5,1545.4 C290.5,1546.9 290.3,1555 290.5,1557 C290.6,1559.1 291,1560.1 291.7,1560.9 C292.3,1561.6 294.3,1562.3 295.6,1562.6 C296.9,1563 300.8,1563.3 301.5,1563.4" stroke-width="3.2"/>
<path d="M339.6,1533 C339.6,1534.1 339.7,1538.2 339.5,1540.4 C339.4,1542.6 339.3,1545.6 338.6,1547.5 C337.8,1549.5 336.2,1552 334.5,1553.5 C332.8,1555 330.2,1556.3 327.1,1557.4 C324.1,1558.5 316.2,1560.3 314.3,1560.9" stroke-width="3.2"/>
<path d="M343.8,1557.4 C344.8,1557.8 348.3,1558.5 349.8,1560 C351.2,1561.5 352.6,1564 352.7,1566.3 C352.8,1568.7 351.8,1571.7 350.4,1574.1 C348.9,1576.5 346.5,1578.6 343.8,1580.6 C341.1,1582.6 337.9,1584.3 334.3,1586 C330.7,1587.6 326.5,1589.3 322.4,1590.5 C318.2,1591.7 313.7,1592.6 309.3,1593.4 C304.9,1594.1 300.1,1594.8 296.2,1594.9 C292.3,1595 288.8,1594.6 286.1,1593.7 C283.3,1592.8 281,1591.2 279.5,1589.5 C278,1587.9 277.1,1585.6 277.1,1583.6 C277.1,1581.6 278.3,1579.3 279.5,1577.6 C280.7,1576 282.7,1574.7 284.3,1573.5 C285.8,1572.2 288.1,1570.6 288.8,1570" stroke-width="3.2"/>
<path d="M290.5,1570.7 C290.5,1572.3 290.3,1580.3 290.5,1582.4 C290.6,1584.5 291,1585.5 291.7,1586.2 C292.3,1587 294.3,1587.7 295.6,1588 C296.9,1588.3 300.8,1588.6 301.5,1588.7" stroke-width="3.2"/>
<path d="M339.6,1558.4 C339.6,1559.5 339.7,1563.6 339.5,1565.7 C339.4,1567.9 339.3,1570.9 338.6,1572.9 C337.8,1574.8 336.2,1577.4 334.5,1578.8 C332.8,1580.3 330.2,1581.7 327.1,1582.8 C324.1,1583.9 316.2,1585.7 314.3,1586.2" stroke-width="3.2"/>
<path d="M343.8,1582.8 C344.8,1583.2 348.3,1583.9 349.8,1585.4 C351.2,1586.9 352.6,1589.3 352.7,1591.7 C352.8,1594 351.8,1597 350.4,1599.4 C348.9,1601.8 346.5,1604 343.8,1606 C341.1,1608 337.9,1609.7 334.3,1611.3 C330.7,1613 326.5,1614.6 322.4,1615.9 C318.2,1617.1 313.7,1618 309.3,1618.7 C304.9,1619.4 300.1,1620.2 296.2,1620.3 C292.3,1620.3 288.8,1620 286.1,1619.1 C283.3,1618.2 281,1616.6 279.5,1614.9 C278,1613.2 277.1,1610.9 277.1,1609 C277.1,1607 278.3,1604.7 279.5,1603 C280.7,1601.3 282.7,1600.1 284.3,1598.8 C285.8,1597.6 288.1,1596 288.8,1595.4" stroke-width="3.2"/>
<path d="M290.5,1596.1 C290.5,1597.6 290.3,1605.7 290.5,1607.8 C290.6,1609.8 291,1610.8 291.7,1611.6 C292.3,1612.3 294.3,1613 295.6,1613.4 C296.9,1613.7 300.8,1614 301.5,1614.1" stroke-width="3.2"/>
<path d="M339.6,1583.7 C339.6,1584.8 339.7,1588.9 339.5,1591.1 C339.4,1593.3 339.3,1596.3 338.6,1598.2 C337.8,1600.2 336.2,1602.7 334.5,1604.2 C332.8,1605.7 330.2,1607 327.1,1608.1 C324.1,1609.2 316.2,1611.1 314.3,1611.6" stroke-width="3.2"/>
<path d="M343.8,1608.1 C344.8,1608.6 348.3,1609.2 349.8,1610.7 C351.2,1612.2 352.6,1614.7 352.7,1617 C352.8,1619.4 351.8,1622.4 350.4,1624.8 C348.9,1627.2 346.5,1629.3 343.8,1631.3 C341.1,1633.3 337.9,1635 334.3,1636.7 C330.7,1638.3 326.5,1640 322.4,1641.2 C318.2,1642.4 313.7,1643.3 309.3,1644.1 C304.9,1644.8 300.1,1645.6 296.2,1645.6 C292.3,1645.7 288.8,1645.3 286.1,1644.4 C283.3,1643.5 281,1641.9 279.5,1640.3 C278,1638.6 277.1,1636.3 277.1,1634.3 C277.1,1632.3 278.3,1630 279.5,1628.4 C280.7,1626.7 282.7,1625.5 284.3,1624.2 C285.8,1622.9 288.1,1621.3 288.8,1620.7" stroke-width="3.2"/>
<path d="M290.5,1621.4 C290.5,1623 290.3,1631.1 290.5,1633.1 C290.6,1635.2 291,1636.2 291.7,1636.9 C292.3,1637.7 294.3,1638.4 295.6,1638.7 C296.9,1639 300.8,1639.3 301.5,1639.4" stroke-width="3.2"/>
<path d="M339.6,1609.1 C339.6,1610.2 339.7,1614.3 339.5,1616.4 C339.4,1618.6 339.3,1621.6 338.6,1623.6 C337.8,1625.6 336.2,1628.1 334.5,1629.5 C332.8,1631 330.2,1632.4 327.1,1633.5 C324.1,1634.6 316.2,1636.4 314.3,1636.9" stroke-width="3.2"/>
<path d="M343.8,1633.5 C344.8,1633.9 348.3,1634.6 349.8,1636.1 C351.2,1637.6 352.6,1640.1 352.7,1642.4 C352.8,1644.7 351.8,1647.8 350.4,1650.1 C348.9,1652.5 346.5,1654.7 343.8,1656.7 C341.1,1658.7 337.9,1660.4 334.3,1662 C330.7,1663.7 326.5,1665.3 322.4,1666.6 C318.2,1667.8 313.7,1668.7 309.3,1669.4 C304.9,1670.2 300.1,1670.9 296.2,1671 C292.3,1671 288.8,1670.7 286.1,1669.8 C283.3,1668.9 281,1667.3 279.5,1665.6 C278,1663.9 277.1,1661.6 277.1,1659.7 C277.1,1657.7 278.3,1655.4 279.5,1653.7 C280.7,1652 282.7,1650.8 284.3,1649.5 C285.8,1648.3 288.1,1646.7 288.8,1646.1" stroke-width="3.2"/>
<path d="M290.5,1646.8 C290.5,1648.4 290.3,1656.4 290.5,1658.5 C290.6,1660.5 291,1661.5 291.7,1662.3 C292.3,1663 294.3,1663.7 295.6,1664.1 C296.9,1664.4 300.8,1664.7 301.5,1664.8" stroke-width="3.2"/>
<path d="M339.6,1634.4 C339.6,1635.5 339.7,1639.6 339.5,1641.8 C339.4,1644 339.3,1647 338.6,1648.9 C337.8,1650.9 336.2,1653.4 334.5,1654.9 C332.8,1656.4 330.2,1657.7 327.1,1658.8 C324.1,1659.9 316.2,1661.8 314.3,1662.3" stroke-width="3.2"/>
<path d="M343.8,1658.8 C344.8,1659.3 348.3,1660 349.8,1661.4 C351.2,1662.9 352.6,1665.4 352.7,1667.8 C352.8,1670.1 351.8,1673.1 350.4,1675.5 C348.9,1677.9 346.5,1680.1 343.8,1682 C341.1,1684 337.9,1685.7 334.3,1687.4 C330.7,1689 326.5,1690.7 322.4,1691.9 C318.2,1693.2 313.7,1694 309.3,1694.8 C304.9,1695.5 300.1,1696.3 296.2,1696.3 C292.3,1696.4 288.8,1696 286.1,1695.1 C283.3,1694.2 281,1692.7 279.5,1691 C278,1689.3 277.1,1687 277.1,1685 C277.1,1683 278.3,1680.7 279.5,1679.1 C280.7,1677.4 282.7,1676.2 284.3,1674.9 C285.8,1673.6 288.1,1672 288.8,1671.4" stroke-width="3.2"/>
<path d="M290.5,1672.2 C290.5,1673.7 290.3,1681.8 290.5,1683.8 C290.6,1685.9 291,1686.9 291.7,1687.6 C292.3,1688.4 294.3,1689.1 295.6,1689.4 C296.9,1689.8 300.8,1690 301.5,1690.1" stroke-width="3.2"/>
<path d="M339.6,1659.8 C339.6,1660.9 339.7,1665 339.5,1667.2 C339.4,1669.3 339.3,1672.3 338.6,1674.3 C337.8,1676.3 336.2,1678.8 334.5,1680.3 C332.8,1681.7 330.2,1683.1 327.1,1684.2 C324.1,1685.3 316.2,1687.1 314.3,1687.6" stroke-width="3.2"/>
<path d="M343.8,1684.2 C344.8,1684.6 348.3,1685.3 349.8,1686.8 C351.2,1688.3 352.6,1690.8 352.7,1693.1 C352.8,1695.4 351.8,1698.5 350.4,1700.8 C348.9,1703.2 346.5,1705.4 343.8,1707.4 C341.1,1709.4 337.9,1711.1 334.3,1712.8 C330.7,1714.4 326.5,1716 322.4,1717.3 C318.2,1718.5 313.7,1719.4 309.3,1720.1 C304.9,1720.9 300.1,1721.6 296.2,1721.7 C292.3,1721.7 288.8,1721.4 286.1,1720.5 C283.3,1719.6 281,1718 279.5,1716.3 C278,1714.6 277.1,1712.4 277.1,1710.4 C277.1,1708.4 278.3,1706.1 279.5,1704.4 C280.7,1702.7 282.7,1701.5 284.3,1700.3 C285.8,1699 288.1,1697.4 288.8,1696.8" stroke-width="3.2"/>
<path d="M290.5,1697.5 C290.5,1699.1 290.3,1707.1 290.5,1709.2 C290.6,1711.2 291,1712.2 291.7,1713 C292.3,1713.7 294.3,1714.4 295.6,1714.8 C296.9,1715.1 300.8,1715.4 301.5,1715.5" stroke-width="3.2"/>
<path d="M339.6,1685.1 C339.6,1686.2 339.7,1690.3 339.5,1692.5 C339.4,1694.7 339.3,1697.7 338.6,1699.7 C337.8,1701.6 336.2,1704.1 334.5,1705.6 C332.8,1707.1 330.2,1708.4 327.1,1709.5 C324.1,1710.6 316.2,1712.5 314.3,1713" stroke-width="3.2"/>
<path d="M343.8,1709.5 C344.8,1710 348.3,1710.7 349.8,1712.2 C351.2,1713.6 352.6,1716.1 352.7,1718.5 C352.8,1720.8 351.8,1723.8 350.4,1726.2 C348.9,1728.6 346.5,1730.8 343.8,1732.7 C341.1,1734.7 337.9,1736.5 334.3,1738.1 C330.7,1739.8 326.5,1741.4 322.4,1742.6 C318.2,1743.9 313.7,1744.8 309.3,1745.5 C304.9,1746.2 300.1,1747 296.2,1747 C292.3,1747.1 288.8,1746.7 286.1,1745.8 C283.3,1745 281,1743.4 279.5,1741.7 C278,1740 277.1,1737.7 277.1,1735.7 C277.1,1733.7 278.3,1731.5 279.5,1729.8 C280.7,1728.1 282.7,1726.9 284.3,1725.6 C285.8,1724.3 288.1,1722.7 288.8,1722.2" stroke-width="3.2"/>
<path d="M290.5,1722.9 C290.5,1724.4 290.3,1732.5 290.5,1734.5 C290.6,1736.6 291,1737.6 291.7,1738.3 C292.3,1739.1 294.3,1739.8 295.6,1740.1 C296.9,1740.5 300.8,1740.7 301.5,1740.8" stroke-width="3.2"/>
<path d="M339.6,1710.5 C339.6,1711.6 339.7,1715.7 339.5,1717.9 C339.4,1720 339.3,1723 338.6,1725 C337.8,1727 336.2,1729.5 334.5,1731 C332.8,1732.4 330.2,1733.8 327.1,1734.9 C324.1,1736 316.2,1737.8 314.3,1738.3" stroke-width="3.2"/>
<path d="M290.5,1746.7 C290.5,1748.2 290.2,1755.6 290.5,1757.7 C290.8,1759.9 291.8,1761.9 292.9,1763.1 C293.9,1764.3 296.7,1766 298.6,1766.7 C300.4,1767.4 304.7,1768.2 306.9,1768.5 C309.1,1768.7 313,1768.8 315.2,1768.7 C317.5,1768.6 321.3,1768.4 323.6,1768 C325.8,1767.6 330,1766.5 331.9,1765.6 C333.8,1764.7 336.6,1762.6 337.6,1761.6 C338.7,1760.5 339.4,1761.4 339.6,1757.7 C339.9,1754.1 339.6,1737.6 339.6,1734.5" stroke-width="3.2"/>
</g>
<path d="M732.2,1341.6 V1320.5 A47.9,28.2 0 0 1 828,1319 V1342.4 A47.9,16.6 0 0 1 732.2,1341.6 Z" stroke-width="3"/>
<path d="M778.8,1338.6 C780.8,1338.4 786.5,1338.1 790.5,1337.6 C794.4,1337.1 798.8,1336.3 802.4,1335.5 C806,1334.7 810.3,1333.3 811.9,1332.9" stroke-width="2.6"/>
<path d="M754.9,1304.4 L759,1299.2 L777.9,1299 L782.7,1295.2 L794.5,1294.5 L799.7,1298.7 L793.6,1301.1 L807.3,1307.7 L801.6,1313.4 L795.9,1313 L787.4,1308.2 L781.2,1308.2 L776.5,1317.2 L770.3,1317.2 L763.2,1314.4 L762.7,1311.5 L768,1306.8 L760.9,1305.4 Z" stroke-width="2.8" stroke-linejoin="round"/>
<path d="M778.2,1299.2 L776.3,1315.3" stroke-width="2.8"/>
<path d="M787.9,1296.8 L788.8,1308.2" stroke-width="3.2"/>
<path d="M768,1306.8 L772.2,1313.4" stroke-width="2.4"/>
<path d="M787.9,1296.8 L796.9,1299.2" stroke-width="3.4"/>
<path d="M761.9,1359.5 L800.6,1359.5" stroke-width="4"/>
<path d="M794.5,1357.4 C795.2,1357.5 797.6,1357.5 798.5,1358.3 C799.5,1359.1 800.2,1360.6 800.3,1362.1 C800.3,1363.6 799.7,1365.7 798.8,1367.3 C797.8,1368.9 796.4,1370.2 794.5,1371.6 C792.6,1373 790.2,1374.7 787.4,1375.8 C784.6,1377 781.1,1378 777.9,1378.6 C774.8,1379.2 771,1379.5 768.4,1379.4 C765.9,1379.3 763.8,1378.6 762.5,1377.7 C761.2,1376.9 760.7,1375.7 760.6,1374.4 C760.5,1373.2 761,1371.5 761.9,1370.2 C762.8,1368.8 765.3,1367 766,1366.4" stroke-width="3"/>
<path d="M766.4,1363.5 C766.4,1364.7 766.3,1370.6 766.4,1372.1 C766.5,1373.5 766.9,1374 767.4,1374.5 C767.9,1375.1 769.4,1375.9 770.3,1376.2 C771.2,1376.5 773.6,1376.8 774.1,1376.9" stroke-width="3"/>
<path d="M793.4,1357.1 C793.4,1358.5 793.6,1364.3 793.3,1366.4 C793.1,1368.4 792.5,1369.6 791.7,1370.7 C790.8,1371.9 789.2,1373 787.4,1374 C785.5,1375 780.5,1376.9 779.3,1377.4" stroke-width="3.8"/>
<path d="M794.5,1373.7 C795.2,1373.8 797.6,1373.8 798.5,1374.6 C799.5,1375.4 800.2,1376.9 800.3,1378.4 C800.3,1379.9 799.7,1382 798.8,1383.6 C797.8,1385.2 796.4,1386.4 794.5,1387.9 C792.6,1389.3 790.2,1391 787.4,1392.1 C784.6,1393.3 781.1,1394.3 777.9,1394.9 C774.8,1395.5 771,1395.8 768.4,1395.7 C765.9,1395.5 763.8,1394.9 762.5,1394 C761.2,1393.2 760.7,1392 760.6,1390.7 C760.5,1389.4 761,1387.8 761.9,1386.4 C762.8,1385.1 765.3,1383.3 766,1382.7" stroke-width="3"/>
<path d="M766.4,1379.8 C766.4,1381 766.3,1386.9 766.4,1388.3 C766.5,1389.8 766.9,1390.3 767.4,1390.8 C767.9,1391.4 769.4,1392.2 770.3,1392.5 C771.2,1392.8 773.6,1393.1 774.1,1393.2" stroke-width="3"/>
<path d="M793.4,1373.4 C793.4,1374.8 793.6,1380.6 793.3,1382.7 C793.1,1384.7 792.5,1385.9 791.7,1387 C790.8,1388.2 789.2,1389.3 787.4,1390.3 C785.5,1391.3 780.5,1393.2 779.3,1393.7" stroke-width="3.8"/>
<path d="M794.5,1389.9 C795.2,1390.1 797.6,1390.1 798.5,1390.9 C799.5,1391.7 800.2,1393.2 800.3,1394.7 C800.3,1396.2 799.7,1398.3 798.8,1399.9 C797.8,1401.5 796.4,1402.7 794.5,1404.2 C792.6,1405.6 790.2,1407.3 787.4,1408.4 C784.6,1409.6 781.1,1410.6 777.9,1411.2 C774.8,1411.8 771,1412.1 768.4,1412 C765.9,1411.8 763.8,1411.2 762.5,1410.3 C761.2,1409.5 760.7,1408.3 760.6,1407 C760.5,1405.7 761,1404.1 761.9,1402.7 C762.8,1401.4 765.3,1399.6 766,1398.9" stroke-width="3"/>
<path d="M766.4,1396.1 C766.4,1397.2 766.3,1403.2 766.4,1404.6 C766.5,1406.1 766.9,1406.5 767.4,1407.1 C767.9,1407.6 769.4,1408.4 770.3,1408.8 C771.2,1409.1 773.6,1409.4 774.1,1409.5" stroke-width="3"/>
<path d="M793.4,1389.7 C793.4,1391.1 793.6,1396.9 793.3,1398.9 C793.1,1401 792.5,1402.2 791.7,1403.3 C790.8,1404.5 789.2,1405.6 787.4,1406.6 C785.5,1407.6 780.5,1409.4 779.3,1409.9" stroke-width="3.8"/>
<path d="M794.5,1406.2 C795.2,1406.4 797.6,1406.4 798.5,1407.2 C799.5,1408 800.2,1409.5 800.3,1411 C800.3,1412.5 799.7,1414.6 798.8,1416.2 C797.8,1417.8 796.4,1419 794.5,1420.5 C792.6,1421.9 790.2,1423.5 787.4,1424.7 C784.6,1425.9 781.1,1426.9 777.9,1427.5 C774.8,1428.1 771,1428.4 768.4,1428.3 C765.9,1428.1 763.8,1427.4 762.5,1426.6 C761.2,1425.8 760.7,1424.6 760.6,1423.3 C760.5,1422 761,1420.4 761.9,1419 C762.8,1417.7 765.3,1415.9 766,1415.2" stroke-width="3"/>
<path d="M766.4,1412.4 C766.4,1413.5 766.3,1419.5 766.4,1420.9 C766.5,1422.4 766.9,1422.8 767.4,1423.4 C767.9,1423.9 769.4,1424.7 770.3,1425 C771.2,1425.4 773.6,1425.7 774.1,1425.8" stroke-width="3"/>
<path d="M793.4,1406 C793.4,1407.4 793.6,1413.2 793.3,1415.2 C793.1,1417.3 792.5,1418.4 791.7,1419.6 C790.8,1420.7 789.2,1421.9 787.4,1422.9 C785.5,1423.9 780.5,1425.7 779.3,1426.2" stroke-width="3.8"/>
<path d="M794.5,1422.5 C795.2,1422.7 797.6,1422.7 798.5,1423.5 C799.5,1424.3 800.2,1425.8 800.3,1427.3 C800.3,1428.8 799.7,1430.9 798.8,1432.5 C797.8,1434.1 796.4,1435.3 794.5,1436.7 C792.6,1438.2 790.2,1439.8 787.4,1441 C784.6,1442.2 781.1,1443.2 777.9,1443.8 C774.8,1444.3 771,1444.7 768.4,1444.6 C765.9,1444.4 763.8,1443.7 762.5,1442.9 C761.2,1442.1 760.7,1440.8 760.6,1439.6 C760.5,1438.3 761,1436.7 761.9,1435.3 C762.8,1434 765.3,1432.2 766,1431.5" stroke-width="3"/>
<path d="M766.4,1428.7 C766.4,1429.8 766.3,1435.7 766.4,1437.2 C766.5,1438.7 766.9,1439.1 767.4,1439.7 C767.9,1440.2 769.4,1441 770.3,1441.3 C771.2,1441.7 773.6,1442 774.1,1442" stroke-width="3"/>
<path d="M793.4,1422.3 C793.4,1423.7 793.6,1429.5 793.3,1431.5 C793.1,1433.6 792.5,1434.7 791.7,1435.9 C790.8,1437 789.2,1438.2 787.4,1439.2 C785.5,1440.2 780.5,1442 779.3,1442.5" stroke-width="3.8"/>
<path d="M794.5,1438.8 C795.2,1439 797.6,1439 798.5,1439.8 C799.5,1440.5 800.2,1442.1 800.3,1443.6 C800.3,1445.1 799.7,1447.2 798.8,1448.8 C797.8,1450.3 796.4,1451.6 794.5,1453 C792.6,1454.5 790.2,1456.1 787.4,1457.3 C784.6,1458.5 781.1,1459.5 777.9,1460 C774.8,1460.6 771,1461 768.4,1460.9 C765.9,1460.7 763.8,1460 762.5,1459.2 C761.2,1458.4 760.7,1457.1 760.6,1455.9 C760.5,1454.6 761,1453 761.9,1451.6 C762.8,1450.3 765.3,1448.4 766,1447.8" stroke-width="3"/>
<path d="M766.4,1445 C766.4,1446.1 766.3,1452 766.4,1453.5 C766.5,1455 766.9,1455.4 767.4,1456 C767.9,1456.5 769.4,1457.3 770.3,1457.6 C771.2,1457.9 773.6,1458.2 774.1,1458.3" stroke-width="3"/>
<path d="M793.4,1438.6 C793.4,1440 793.6,1445.8 793.3,1447.8 C793.1,1449.9 792.5,1451 791.7,1452.2 C790.8,1453.3 789.2,1454.5 787.4,1455.5 C785.5,1456.5 780.5,1458.3 779.3,1458.8" stroke-width="3.8"/>
<path d="M794.5,1455.1 C795.2,1455.3 797.6,1455.3 798.5,1456 C799.5,1456.8 800.2,1458.3 800.3,1459.8 C800.3,1461.3 799.7,1463.5 798.8,1465.1 C797.8,1466.6 796.4,1467.9 794.5,1469.3 C792.6,1470.7 790.2,1472.4 787.4,1473.6 C784.6,1474.8 781.1,1475.7 777.9,1476.3 C774.8,1476.9 771,1477.3 768.4,1477.1 C765.9,1477 763.8,1476.3 762.5,1475.5 C761.2,1474.7 760.7,1473.4 760.6,1472.2 C760.5,1470.9 761,1469.2 761.9,1467.9 C762.8,1466.6 765.3,1464.7 766,1464.1" stroke-width="3"/>
<path d="M766.4,1461.3 C766.4,1462.4 766.3,1468.3 766.4,1469.8 C766.5,1471.3 766.9,1471.7 767.4,1472.3 C767.9,1472.8 769.4,1473.6 770.3,1473.9 C771.2,1474.2 773.6,1474.5 774.1,1474.6" stroke-width="3"/>
<path d="M793.4,1454.9 C793.4,1456.3 793.6,1462.1 793.3,1464.1 C793.1,1466.1 792.5,1467.3 791.7,1468.5 C790.8,1469.6 789.2,1470.8 787.4,1471.8 C785.5,1472.8 780.5,1474.6 779.3,1475.1" stroke-width="3.8"/>
<path d="M794.5,1471.4 C795.2,1471.6 797.6,1471.6 798.5,1472.3 C799.5,1473.1 800.2,1474.6 800.3,1476.1 C800.3,1477.6 799.7,1479.8 798.8,1481.3 C797.8,1482.9 796.4,1484.2 794.5,1485.6 C792.6,1487 790.2,1488.7 787.4,1489.9 C784.6,1491 781.1,1492 777.9,1492.6 C774.8,1493.2 771,1493.6 768.4,1493.4 C765.9,1493.3 763.8,1492.6 762.5,1491.8 C761.2,1490.9 760.7,1489.7 760.6,1488.5 C760.5,1487.2 761,1485.5 761.9,1484.2 C762.8,1482.8 765.3,1481 766,1480.4" stroke-width="3"/>
<path d="M766.4,1477.6 C766.4,1478.7 766.3,1484.6 766.4,1486.1 C766.5,1487.6 766.9,1488 767.4,1488.5 C767.9,1489.1 769.4,1489.9 770.3,1490.2 C771.2,1490.5 773.6,1490.8 774.1,1490.9" stroke-width="3"/>
<path d="M793.4,1471.2 C793.4,1472.5 793.6,1478.4 793.3,1480.4 C793.1,1482.4 792.5,1483.6 791.7,1484.8 C790.8,1485.9 789.2,1487.1 787.4,1488.1 C785.5,1489.1 780.5,1490.9 779.3,1491.4" stroke-width="3.8"/>
<path d="M794.5,1487.7 C795.2,1487.8 797.6,1487.8 798.5,1488.6 C799.5,1489.4 800.2,1490.9 800.3,1492.4 C800.3,1493.9 799.7,1496.1 798.8,1497.6 C797.8,1499.2 796.4,1500.5 794.5,1501.9 C792.6,1503.3 790.2,1505 787.4,1506.2 C784.6,1507.3 781.1,1508.3 777.9,1508.9 C774.8,1509.5 771,1509.9 768.4,1509.7 C765.9,1509.6 763.8,1508.9 762.5,1508.1 C761.2,1507.2 760.7,1506 760.6,1504.7 C760.5,1503.5 761,1501.8 761.9,1500.5 C762.8,1499.1 765.3,1497.3 766,1496.7" stroke-width="3"/>
<path d="M766.4,1493.8 C766.4,1495 766.3,1500.9 766.4,1502.4 C766.5,1503.8 766.9,1504.3 767.4,1504.8 C767.9,1505.4 769.4,1506.2 770.3,1506.5 C771.2,1506.8 773.6,1507.1 774.1,1507.2" stroke-width="3"/>
<path d="M793.4,1487.4 C793.4,1488.8 793.6,1494.6 793.3,1496.7 C793.1,1498.7 792.5,1499.9 791.7,1501 C790.8,1502.2 789.2,1503.4 787.4,1504.4 C785.5,1505.4 780.5,1507.2 779.3,1507.7" stroke-width="3.8"/>
<path d="M794.5,1504 C795.2,1504.1 797.6,1504.1 798.5,1504.9 C799.5,1505.7 800.2,1507.2 800.3,1508.7 C800.3,1510.2 799.7,1512.3 798.8,1513.9 C797.8,1515.5 796.4,1516.8 794.5,1518.2 C792.6,1519.6 790.2,1521.3 787.4,1522.5 C784.6,1523.6 781.1,1524.6 777.9,1525.2 C774.8,1525.8 771,1526.2 768.4,1526 C765.9,1525.9 763.8,1525.2 762.5,1524.4 C761.2,1523.5 760.7,1522.3 760.6,1521 C760.5,1519.8 761,1518.1 761.9,1516.8 C762.8,1515.4 765.3,1513.6 766,1513" stroke-width="3"/>
<path d="M766.4,1510.1 C766.4,1511.3 766.3,1517.2 766.4,1518.7 C766.5,1520.1 766.9,1520.6 767.4,1521.1 C767.9,1521.7 769.4,1522.5 770.3,1522.8 C771.2,1523.1 773.6,1523.4 774.1,1523.5" stroke-width="3"/>
<path d="M793.4,1503.7 C793.4,1505.1 793.6,1510.9 793.3,1513 C793.1,1515 792.5,1516.2 791.7,1517.3 C790.8,1518.5 789.2,1519.7 787.4,1520.7 C785.5,1521.6 780.5,1523.5 779.3,1524" stroke-width="3.8"/>
<path d="M794.5,1520.3 C795.2,1520.4 797.6,1520.4 798.5,1521.2 C799.5,1522 800.2,1523.5 800.3,1525 C800.3,1526.5 799.7,1528.6 798.8,1530.2 C797.8,1531.8 796.4,1533.1 794.5,1534.5 C792.6,1535.9 790.2,1537.6 787.4,1538.7 C784.6,1539.9 781.1,1540.9 777.9,1541.5 C774.8,1542.1 771,1542.4 768.4,1542.3 C765.9,1542.2 763.8,1541.5 762.5,1540.6 C761.2,1539.8 760.7,1538.6 760.6,1537.3 C760.5,1536.1 761,1534.4 761.9,1533.1 C762.8,1531.7 765.3,1529.9 766,1529.3" stroke-width="3"/>
<path d="M766.4,1526.4 C766.4,1527.6 766.3,1533.5 766.4,1535 C766.5,1536.4 766.9,1536.9 767.4,1537.4 C767.9,1538 769.4,1538.8 770.3,1539.1 C771.2,1539.4 773.6,1539.7 774.1,1539.8" stroke-width="3"/>
<path d="M793.4,1520 C793.4,1521.4 793.6,1527.2 793.3,1529.3 C793.1,1531.3 792.5,1532.5 791.7,1533.6 C790.8,1534.8 789.2,1535.9 787.4,1536.9 C785.5,1537.9 780.5,1539.8 779.3,1540.3" stroke-width="3.8"/>
<path d="M794.5,1536.6 C795.2,1536.7 797.6,1536.7 798.5,1537.5 C799.5,1538.3 800.2,1539.8 800.3,1541.3 C800.3,1542.8 799.7,1544.9 798.8,1546.5 C797.8,1548.1 796.4,1549.3 794.5,1550.8 C792.6,1552.2 790.2,1553.9 787.4,1555 C784.6,1556.2 781.1,1557.2 777.9,1557.8 C774.8,1558.4 771,1558.7 768.4,1558.6 C765.9,1558.4 763.8,1557.8 762.5,1556.9 C761.2,1556.1 760.7,1554.9 760.6,1553.6 C760.5,1552.3 761,1550.7 761.9,1549.3 C762.8,1548 765.3,1546.2 766,1545.6" stroke-width="3"/>
<path d="M766.4,1542.7 C766.4,1543.9 766.3,1549.8 766.4,1551.2 C766.5,1552.7 766.9,1553.2 767.4,1553.7 C767.9,1554.3 769.4,1555.1 770.3,1555.4 C771.2,1555.7 773.6,1556 774.1,1556.1" stroke-width="3"/>
<path d="M793.4,1536.3 C793.4,1537.7 793.6,1543.5 793.3,1545.6 C793.1,1547.6 792.5,1548.8 791.7,1549.9 C790.8,1551.1 789.2,1552.2 787.4,1553.2 C785.5,1554.2 780.5,1556.1 779.3,1556.6" stroke-width="3.8"/>
<path d="M794.5,1552.8 C795.2,1553 797.6,1553 798.5,1553.8 C799.5,1554.6 800.2,1556.1 800.3,1557.6 C800.3,1559.1 799.7,1561.2 798.8,1562.8 C797.8,1564.4 796.4,1565.6 794.5,1567.1 C792.6,1568.5 790.2,1570.2 787.4,1571.3 C784.6,1572.5 781.1,1573.5 777.9,1574.1 C774.8,1574.7 771,1575 768.4,1574.9 C765.9,1574.7 763.8,1574.1 762.5,1573.2 C761.2,1572.4 760.7,1571.2 760.6,1569.9 C760.5,1568.6 761,1567 761.9,1565.6 C762.8,1564.3 765.3,1562.5 766,1561.8" stroke-width="3"/>
<path d="M766.4,1559 C766.4,1560.1 766.3,1566.1 766.4,1567.5 C766.5,1569 766.9,1569.4 767.4,1570 C767.9,1570.5 769.4,1571.3 770.3,1571.7 C771.2,1572 773.6,1572.3 774.1,1572.4" stroke-width="3"/>
<path d="M793.4,1552.6 C793.4,1554 793.6,1559.8 793.3,1561.8 C793.1,1563.9 792.5,1565.1 791.7,1566.2 C790.8,1567.4 789.2,1568.5 787.4,1569.5 C785.5,1570.5 780.5,1572.3 779.3,1572.8" stroke-width="3.8"/>
<path d="M794.5,1569.1 C795.2,1569.3 797.6,1569.3 798.5,1570.1 C799.5,1570.9 800.2,1572.4 800.3,1573.9 C800.3,1575.4 799.7,1577.5 798.8,1579.1 C797.8,1580.7 796.4,1581.9 794.5,1583.4 C792.6,1584.8 790.2,1586.4 787.4,1587.6 C784.6,1588.8 781.1,1589.8 777.9,1590.4 C774.8,1591 771,1591.3 768.4,1591.2 C765.9,1591 763.8,1590.3 762.5,1589.5 C761.2,1588.7 760.7,1587.5 760.6,1586.2 C760.5,1584.9 761,1583.3 761.9,1581.9 C762.8,1580.6 765.3,1578.8 766,1578.1" stroke-width="3"/>
<path d="M766.4,1575.3 C766.4,1576.4 766.3,1582.4 766.4,1583.8 C766.5,1585.3 766.9,1585.7 767.4,1586.3 C767.9,1586.8 769.4,1587.6 770.3,1587.9 C771.2,1588.3 773.6,1588.6 774.1,1588.7" stroke-width="3"/>
<path d="M793.4,1568.9 C793.4,1570.3 793.6,1576.1 793.3,1578.1 C793.1,1580.2 792.5,1581.3 791.7,1582.5 C790.8,1583.6 789.2,1584.8 787.4,1585.8 C785.5,1586.8 780.5,1588.6 779.3,1589.1" stroke-width="3.8"/>
<path d="M794.5,1585.4 C795.2,1585.6 797.6,1585.6 798.5,1586.4 C799.5,1587.2 800.2,1588.7 800.3,1590.2 C800.3,1591.7 799.7,1593.8 798.8,1595.4 C797.8,1597 796.4,1598.2 794.5,1599.6 C792.6,1601.1 790.2,1602.7 787.4,1603.9 C784.6,1605.1 781.1,1606.1 777.9,1606.7 C774.8,1607.2 771,1607.6 768.4,1607.5 C765.9,1607.3 763.8,1606.6 762.5,1605.8 C761.2,1605 760.7,1603.7 760.6,1602.5 C760.5,1601.2 761,1599.6 761.9,1598.2 C762.8,1596.9 765.3,1595.1 766,1594.4" stroke-width="3"/>
<path d="M766.4,1591.6 C766.4,1592.7 766.3,1598.6 766.4,1600.1 C766.5,1601.6 766.9,1602 767.4,1602.6 C767.9,1603.1 769.4,1603.9 770.3,1604.2 C771.2,1604.6 773.6,1604.9 774.1,1604.9" stroke-width="3"/>
<path d="M793.4,1585.2 C793.4,1586.6 793.6,1592.4 793.3,1594.4 C793.1,1596.5 792.5,1597.6 791.7,1598.8 C790.8,1599.9 789.2,1601.1 787.4,1602.1 C785.5,1603.1 780.5,1604.9 779.3,1605.4" stroke-width="3.8"/>
<path d="M794.5,1601.7 C795.2,1601.9 797.6,1601.9 798.5,1602.7 C799.5,1603.4 800.2,1605 800.3,1606.5 C800.3,1608 799.7,1610.1 798.8,1611.7 C797.8,1613.2 796.4,1614.5 794.5,1615.9 C792.6,1617.4 790.2,1619 787.4,1620.2 C784.6,1621.4 781.1,1622.4 777.9,1622.9 C774.8,1623.5 771,1623.9 768.4,1623.8 C765.9,1623.6 763.8,1622.9 762.5,1622.1 C761.2,1621.3 760.7,1620 760.6,1618.8 C760.5,1617.5 761,1615.9 761.9,1614.5 C762.8,1613.2 765.3,1611.3 766,1610.7" stroke-width="3"/>
<path d="M766.4,1607.9 C766.4,1609 766.3,1614.9 766.4,1616.4 C766.5,1617.9 766.9,1618.3 767.4,1618.9 C767.9,1619.4 769.4,1620.2 770.3,1620.5 C771.2,1620.8 773.6,1621.1 774.1,1621.2" stroke-width="3"/>
<path d="M793.4,1601.5 C793.4,1602.9 793.6,1608.7 793.3,1610.7 C793.1,1612.8 792.5,1613.9 791.7,1615.1 C790.8,1616.2 789.2,1617.4 787.4,1618.4 C785.5,1619.4 780.5,1621.2 779.3,1621.7" stroke-width="3.8"/>
<path d="M794.5,1618 C795.2,1618.2 797.6,1618.2 798.5,1618.9 C799.5,1619.7 800.2,1621.2 800.3,1622.7 C800.3,1624.2 799.7,1626.4 798.8,1628 C797.8,1629.5 796.4,1630.8 794.5,1632.2 C792.6,1633.6 790.2,1635.3 787.4,1636.5 C784.6,1637.7 781.1,1638.6 777.9,1639.2 C774.8,1639.8 771,1640.2 768.4,1640 C765.9,1639.9 763.8,1639.2 762.5,1638.4 C761.2,1637.6 760.7,1636.3 760.6,1635.1 C760.5,1633.8 761,1632.1 761.9,1630.8 C762.8,1629.5 765.3,1627.6 766,1627" stroke-width="3"/>
<path d="M766.4,1624.2 C766.4,1625.3 766.3,1631.2 766.4,1632.7 C766.5,1634.2 766.9,1634.6 767.4,1635.2 C767.9,1635.7 769.4,1636.5 770.3,1636.8 C771.2,1637.1 773.6,1637.4 774.1,1637.5" stroke-width="3"/>
<path d="M793.4,1617.8 C793.4,1619.2 793.6,1625 793.3,1627 C793.1,1629 792.5,1630.2 791.7,1631.4 C790.8,1632.5 789.2,1633.7 787.4,1634.7 C785.5,1635.7 780.5,1637.5 779.3,1638" stroke-width="3.8"/>
<path d="M794.5,1634.3 C795.2,1634.5 797.6,1634.5 798.5,1635.2 C799.5,1636 800.2,1637.5 800.3,1639 C800.3,1640.5 799.7,1642.7 798.8,1644.2 C797.8,1645.8 796.4,1647.1 794.5,1648.5 C792.6,1649.9 790.2,1651.6 787.4,1652.8 C784.6,1653.9 781.1,1654.9 777.9,1655.5 C774.8,1656.1 771,1656.5 768.4,1656.3 C765.9,1656.2 763.8,1655.5 762.5,1654.7 C761.2,1653.8 760.7,1652.6 760.6,1651.4 C760.5,1650.1 761,1648.4 761.9,1647.1 C762.8,1645.7 765.3,1643.9 766,1643.3" stroke-width="3"/>
<path d="M766.4,1640.5 C766.4,1641.6 766.3,1647.5 766.4,1649 C766.5,1650.5 766.9,1650.9 767.4,1651.4 C767.9,1652 769.4,1652.8 770.3,1653.1 C771.2,1653.4 773.6,1653.7 774.1,1653.8" stroke-width="3"/>
<path d="M793.4,1634.1 C793.4,1635.4 793.6,1641.3 793.3,1643.3 C793.1,1645.3 792.5,1646.5 791.7,1647.7 C790.8,1648.8 789.2,1650 787.4,1651 C785.5,1652 780.5,1653.8 779.3,1654.3" stroke-width="3.8"/>
<path d="M794.5,1650.6 C795.2,1650.7 797.6,1650.7 798.5,1651.5 C799.5,1652.3 800.2,1653.8 800.3,1655.3 C800.3,1656.8 799.7,1659 798.8,1660.5 C797.8,1662.1 796.4,1663.4 794.5,1664.8 C792.6,1666.2 790.2,1667.9 787.4,1669.1 C784.6,1670.2 781.1,1671.2 777.9,1671.8 C774.8,1672.4 771,1672.8 768.4,1672.6 C765.9,1672.5 763.8,1671.8 762.5,1671 C761.2,1670.1 760.7,1668.9 760.6,1667.6 C760.5,1666.4 761,1664.7 761.9,1663.4 C762.8,1662 765.3,1660.2 766,1659.6" stroke-width="3"/>
<path d="M766.4,1656.7 C766.4,1657.9 766.3,1663.8 766.4,1665.3 C766.5,1666.7 766.9,1667.2 767.4,1667.7 C767.9,1668.3 769.4,1669.1 770.3,1669.4 C771.2,1669.7 773.6,1670 774.1,1670.1" stroke-width="3"/>
<path d="M793.4,1650.3 C793.4,1651.7 793.6,1657.5 793.3,1659.6 C793.1,1661.6 792.5,1662.8 791.7,1663.9 C790.8,1665.1 789.2,1666.3 787.4,1667.3 C785.5,1668.3 780.5,1670.1 779.3,1670.6" stroke-width="3.8"/>
<path d="M794.5,1666.9 C795.2,1667 797.6,1667 798.5,1667.8 C799.5,1668.6 800.2,1670.1 800.3,1671.6 C800.3,1673.1 799.7,1675.2 798.8,1676.8 C797.8,1678.4 796.4,1679.7 794.5,1681.1 C792.6,1682.5 790.2,1684.2 787.4,1685.4 C784.6,1686.5 781.1,1687.5 777.9,1688.1 C774.8,1688.7 771,1689.1 768.4,1688.9 C765.9,1688.8 763.8,1688.1 762.5,1687.3 C761.2,1686.4 760.7,1685.2 760.6,1683.9 C760.5,1682.7 761,1681 761.9,1679.7 C762.8,1678.3 765.3,1676.5 766,1675.9" stroke-width="3"/>
<path d="M766.4,1673 C766.4,1674.2 766.3,1680.1 766.4,1681.6 C766.5,1683 766.9,1683.5 767.4,1684 C767.9,1684.6 769.4,1685.4 770.3,1685.7 C771.2,1686 773.6,1686.3 774.1,1686.4" stroke-width="3"/>
<path d="M793.4,1666.6 C793.4,1668 793.6,1673.8 793.3,1675.9 C793.1,1677.9 792.5,1679.1 791.7,1680.2 C790.8,1681.4 789.2,1682.6 787.4,1683.6 C785.5,1684.5 780.5,1686.4 779.3,1686.9" stroke-width="3.8"/>
<path d="M794.5,1683.2 C795.2,1683.3 797.6,1683.3 798.5,1684.1 C799.5,1684.9 800.2,1686.4 800.3,1687.9 C800.3,1689.4 799.7,1691.5 798.8,1693.1 C797.8,1694.7 796.4,1696 794.5,1697.4 C792.6,1698.8 790.2,1700.5 787.4,1701.6 C784.6,1702.8 781.1,1703.8 777.9,1704.4 C774.8,1705 771,1705.3 768.4,1705.2 C765.9,1705.1 763.8,1704.4 762.5,1703.5 C761.2,1702.7 760.7,1701.5 760.6,1700.2 C760.5,1699 761,1697.3 761.9,1696 C762.8,1694.6 765.3,1692.8 766,1692.2" stroke-width="3"/>
<path d="M766.4,1689.3 C766.4,1690.5 766.3,1696.4 766.4,1697.9 C766.5,1699.3 766.9,1699.8 767.4,1700.3 C767.9,1700.9 769.4,1701.7 770.3,1702 C771.2,1702.3 773.6,1702.6 774.1,1702.7" stroke-width="3"/>
<path d="M793.4,1682.9 C793.4,1684.3 793.6,1690.1 793.3,1692.2 C793.1,1694.2 792.5,1695.4 791.7,1696.5 C790.8,1697.7 789.2,1698.8 787.4,1699.8 C785.5,1700.8 780.5,1702.7 779.3,1703.2" stroke-width="3.8"/>
<path d="M794.5,1699.5 C795.2,1699.6 797.6,1699.6 798.5,1700.4 C799.5,1701.2 800.2,1702.7 800.3,1704.2 C800.3,1705.7 799.7,1707.8 798.8,1709.4 C797.8,1711 796.4,1712.2 794.5,1713.7 C792.6,1715.1 790.2,1716.8 787.4,1717.9 C784.6,1719.1 781.1,1720.1 777.9,1720.7 C774.8,1721.3 771,1721.6 768.4,1721.5 C765.9,1721.3 763.8,1720.7 762.5,1719.8 C761.2,1719 760.7,1717.8 760.6,1716.5 C760.5,1715.2 761,1713.6 761.9,1712.2 C762.8,1710.9 765.3,1709.1 766,1708.5" stroke-width="3"/>
<path d="M766.4,1705.6 C766.4,1706.8 766.3,1712.7 766.4,1714.1 C766.5,1715.6 766.9,1716.1 767.4,1716.6 C767.9,1717.2 769.4,1718 770.3,1718.3 C771.2,1718.6 773.6,1718.9 774.1,1719" stroke-width="3"/>
<path d="M793.4,1699.2 C793.4,1700.6 793.6,1706.4 793.3,1708.5 C793.1,1710.5 792.5,1711.7 791.7,1712.8 C790.8,1714 789.2,1715.1 787.4,1716.1 C785.5,1717.1 780.5,1719 779.3,1719.5" stroke-width="3.8"/>
<path d="M794.5,1715.7 C795.2,1715.9 797.6,1715.9 798.5,1716.7 C799.5,1717.5 800.2,1719 800.3,1720.5 C800.3,1722 799.7,1724.1 798.8,1725.7 C797.8,1727.3 796.4,1728.5 794.5,1730 C792.6,1731.4 790.2,1733.1 787.4,1734.2 C784.6,1735.4 781.1,1736.4 777.9,1737 C774.8,1737.6 771,1737.9 768.4,1737.8 C765.9,1737.6 763.8,1737 762.5,1736.1 C761.2,1735.3 760.7,1734.1 760.6,1732.8 C760.5,1731.5 761,1729.9 761.9,1728.5 C762.8,1727.2 765.3,1725.4 766,1724.7" stroke-width="3"/>
<path d="M766.4,1721.9 C766.4,1723 766.3,1729 766.4,1730.4 C766.5,1731.9 766.9,1732.3 767.4,1732.9 C767.9,1733.4 769.4,1734.2 770.3,1734.6 C771.2,1734.9 773.6,1735.2 774.1,1735.3" stroke-width="3"/>
<path d="M793.4,1715.5 C793.4,1716.9 793.6,1722.7 793.3,1724.7 C793.1,1726.8 792.5,1728 791.7,1729.1 C790.8,1730.3 789.2,1731.4 787.4,1732.4 C785.5,1733.4 780.5,1735.2 779.3,1735.7" stroke-width="3.8"/>
<path d="M794.5,1732 C795.2,1732.2 797.6,1732.2 798.5,1733 C799.5,1733.8 800.2,1735.3 800.3,1736.8 C800.3,1738.3 799.7,1740.4 798.8,1742 C797.8,1743.6 796.4,1744.8 794.5,1746.3 C792.6,1747.7 790.2,1749.3 787.4,1750.5 C784.6,1751.7 781.1,1752.7 777.9,1753.3 C774.8,1753.9 771,1754.2 768.4,1754.1 C765.9,1753.9 763.8,1753.2 762.5,1752.4 C761.2,1751.6 760.7,1750.4 760.6,1749.1 C760.5,1747.8 761,1746.2 761.9,1744.8 C762.8,1743.5 765.3,1741.7 766,1741" stroke-width="3"/>
<path d="M766.4,1738.2 C766.4,1739.3 766.3,1745.3 766.4,1746.7 C766.5,1748.2 766.9,1748.6 767.4,1749.2 C767.9,1749.7 769.4,1750.5 770.3,1750.8 C771.2,1751.2 773.6,1751.5 774.1,1751.6" stroke-width="3"/>
<path d="M793.4,1731.8 C793.4,1733.2 793.6,1739 793.3,1741 C793.1,1743.1 792.5,1744.2 791.7,1745.4 C790.8,1746.5 789.2,1747.7 787.4,1748.7 C785.5,1749.7 780.5,1751.5 779.3,1752" stroke-width="3.8"/>
<path d="M794.5,1748.3 C795.2,1748.5 797.6,1748.5 798.5,1749.3 C799.5,1750.1 800.2,1751.6 800.3,1753.1 C800.3,1754.6 799.7,1756.7 798.8,1758.3 C797.8,1759.9 796.4,1761.1 794.5,1762.5 C792.6,1764 790.2,1765.6 787.4,1766.8 C784.6,1768 781.1,1769 777.9,1769.6 C774.8,1770.1 771,1770.5 768.4,1770.4 C765.9,1770.2 763.8,1769.5 762.5,1768.7 C761.2,1767.9 760.7,1766.6 760.6,1765.4 C760.5,1764.1 761,1762.5 761.9,1761.1 C762.8,1759.8 765.3,1758 766,1757.3" stroke-width="3"/>
<path d="M766.4,1754.5 C766.4,1755.6 766.3,1761.5 766.4,1763 C766.5,1764.5 766.9,1764.9 767.4,1765.5 C767.9,1766 769.4,1766.8 770.3,1767.1 C771.2,1767.5 773.6,1767.8 774.1,1767.8" stroke-width="3"/>
<path d="M793.4,1748.1 C793.4,1749.5 793.6,1755.3 793.3,1757.3 C793.1,1759.4 792.5,1760.5 791.7,1761.7 C790.8,1762.8 789.2,1764 787.4,1765 C785.5,1766 780.5,1767.8 779.3,1768.3" stroke-width="3.8"/>
<path d="M794.5,1764.6 C795.2,1764.8 797.6,1764.8 798.5,1765.6 C799.5,1766.3 800.2,1767.9 800.3,1769.4 C800.3,1770.9 799.7,1773 798.8,1774.6 C797.8,1776.1 796.4,1777.4 794.5,1778.8 C792.6,1780.3 790.2,1781.9 787.4,1783.1 C784.6,1784.3 781.1,1785.3 777.9,1785.8 C774.8,1786.4 771,1786.8 768.4,1786.7 C765.9,1786.5 763.8,1785.8 762.5,1785 C761.2,1784.2 760.7,1782.9 760.6,1781.7 C760.5,1780.4 761,1778.8 761.9,1777.4 C762.8,1776.1 765.3,1774.2 766,1773.6" stroke-width="3"/>
<path d="M766.4,1770.8 C766.4,1771.9 766.3,1777.8 766.4,1779.3 C766.5,1780.8 766.9,1781.2 767.4,1781.8 C767.9,1782.3 769.4,1783.1 770.3,1783.4 C771.2,1783.7 773.6,1784 774.1,1784.1" stroke-width="3"/>
<path d="M793.4,1764.4 C793.4,1765.8 793.6,1771.6 793.3,1773.6 C793.1,1775.7 792.5,1776.8 791.7,1778 C790.8,1779.1 789.2,1780.3 787.4,1781.3 C785.5,1782.3 780.5,1784.1 779.3,1784.6" stroke-width="3.8"/>
<path d="M794.5,1780.9 C795.2,1781.1 797.6,1781.1 798.5,1781.8 C799.5,1782.6 800.2,1784.1 800.3,1785.6 C800.3,1787.1 799.7,1789.3 798.8,1790.9 C797.8,1792.4 796.4,1793.7 794.5,1795.1 C792.6,1796.5 790.2,1798.2 787.4,1799.4 C784.6,1800.6 781.1,1801.5 777.9,1802.1 C774.8,1802.7 771,1803.1 768.4,1802.9 C765.9,1802.8 763.8,1802.1 762.5,1801.3 C761.2,1800.5 760.7,1799.2 760.6,1798 C760.5,1796.7 761,1795 761.9,1793.7 C762.8,1792.4 765.3,1790.5 766,1789.9" stroke-width="3"/>
<path d="M766.4,1787.1 C766.4,1788.2 766.3,1794.1 766.4,1795.6 C766.5,1797.1 766.9,1797.5 767.4,1798.1 C767.9,1798.6 769.4,1799.4 770.3,1799.7 C771.2,1800 773.6,1800.3 774.1,1800.4" stroke-width="3"/>
<path d="M793.4,1780.7 C793.4,1782.1 793.6,1787.9 793.3,1789.9 C793.1,1791.9 792.5,1793.1 791.7,1794.3 C790.8,1795.4 789.2,1796.6 787.4,1797.6 C785.5,1798.6 780.5,1800.4 779.3,1800.9" stroke-width="3.8"/>
<path d="M794.5,1797.2 C795.2,1797.4 797.6,1797.4 798.5,1798.1 C799.5,1798.9 800.2,1800.4 800.3,1801.9 C800.3,1803.4 799.7,1805.6 798.8,1807.1 C797.8,1808.7 796.4,1810 794.5,1811.4 C792.6,1812.8 790.2,1814.5 787.4,1815.7 C784.6,1816.8 781.1,1817.8 777.9,1818.4 C774.8,1819 771,1819.4 768.4,1819.2 C765.9,1819.1 763.8,1818.4 762.5,1817.6 C761.2,1816.7 760.7,1815.5 760.6,1814.3 C760.5,1813 761,1811.3 761.9,1810 C762.8,1808.6 765.3,1806.8 766,1806.2" stroke-width="3"/>
<path d="M766.4,1803.4 C766.4,1804.5 766.3,1810.4 766.4,1811.9 C766.5,1813.4 766.9,1813.8 767.4,1814.3 C767.9,1814.9 769.4,1815.7 770.3,1816 C771.2,1816.3 773.6,1816.6 774.1,1816.7" stroke-width="3"/>
<path d="M793.4,1797 C793.4,1798.3 793.6,1804.2 793.3,1806.2 C793.1,1808.2 792.5,1809.4 791.7,1810.6 C790.8,1811.7 789.2,1812.9 787.4,1813.9 C785.5,1814.9 780.5,1816.7 779.3,1817.2" stroke-width="3.8"/>
<path d="M794.5,1813.5 C795.2,1813.6 797.6,1813.6 798.5,1814.4 C799.5,1815.2 800.2,1816.7 800.3,1818.2 C800.3,1819.7 799.7,1821.9 798.8,1823.4 C797.8,1825 796.4,1826.3 794.5,1827.7 C792.6,1829.1 790.2,1830.8 787.4,1832 C784.6,1833.1 781.1,1834.1 777.9,1834.7 C774.8,1835.3 771,1835.7 768.4,1835.5 C765.9,1835.4 763.8,1834.7 762.5,1833.9 C761.2,1833 760.7,1831.8 760.6,1830.5 C760.5,1829.3 761,1827.6 761.9,1826.3 C762.8,1824.9 765.3,1823.1 766,1822.5" stroke-width="3"/>
<path d="M766.4,1819.6 C766.4,1820.8 766.3,1826.7 766.4,1828.2 C766.5,1829.6 766.9,1830.1 767.4,1830.6 C767.9,1831.2 769.4,1832 770.3,1832.3 C771.2,1832.6 773.6,1832.9 774.1,1833" stroke-width="3"/>
<path d="M793.4,1813.2 C793.4,1814.6 793.6,1820.4 793.3,1822.5 C793.1,1824.5 792.5,1825.7 791.7,1826.8 C790.8,1828 789.2,1829.2 787.4,1830.2 C785.5,1831.2 780.5,1833 779.3,1833.5" stroke-width="3.8"/>
<path d="M794.5,1829.8 C795.2,1829.9 797.6,1829.9 798.5,1830.7 C799.5,1831.5 800.2,1833 800.3,1834.5 C800.3,1836 799.7,1838.1 798.8,1839.7 C797.8,1841.3 796.4,1842.6 794.5,1844 C792.6,1845.4 790.2,1847.1 787.4,1848.3 C784.6,1849.4 781.1,1850.4 777.9,1851 C774.8,1851.6 771,1852 768.4,1851.8 C765.9,1851.7 763.8,1851 762.5,1850.2 C761.2,1849.3 760.7,1848.1 760.6,1846.8 C760.5,1845.6 761,1843.9 761.9,1842.6 C762.8,1841.2 765.3,1839.4 766,1838.8" stroke-width="3"/>
<path d="M766.4,1835.9 C766.4,1837.1 766.3,1843 766.4,1844.5 C766.5,1845.9 766.9,1846.4 767.4,1846.9 C767.9,1847.5 769.4,1848.3 770.3,1848.6 C771.2,1848.9 773.6,1849.2 774.1,1849.3" stroke-width="3"/>
<path d="M793.4,1829.5 C793.4,1830.9 793.6,1836.7 793.3,1838.8 C793.1,1840.8 792.5,1842 791.7,1843.1 C790.8,1844.3 789.2,1845.5 787.4,1846.5 C785.5,1847.4 780.5,1849.3 779.3,1849.8" stroke-width="3.8"/>
<path d="M795.2,1851.8 C795.5,1852.3 797,1853.5 797,1854.8 C797,1856.1 796.7,1857.7 795.2,1859.5 C793.8,1861.3 790.9,1864 788.1,1865.5 C785.3,1867 781.7,1868.2 778.6,1868.5 C775.4,1868.8 771.5,1868.2 769,1867.3 C766.6,1866.4 764.3,1864.8 763.7,1863.1 C763.1,1861.4 765,1858.1 765.2,1857.1" stroke-width="3"/>
<path d="M765.2,1853.6 L765.2,1858.9 L770.5,1872 L779.8,1891.4 L788.3,1878.6 L790.7,1869 L795.2,1854.8" stroke-width="3"/>
<path d="M790.7,1869 C790.3,1870 789.8,1873.4 788.3,1875 C786.9,1876.6 784.6,1877.8 782.1,1878.6 C779.7,1879.4 775.9,1880.1 773.8,1879.8 C771.8,1879.4 770.4,1877.7 769.9,1876.4 C769.3,1875.1 770.4,1872.8 770.5,1872" stroke-width="3"/>
<path d="M789.5,1871.4 L791.1,1881.2" stroke-width="2.4"/>
<ellipse cx="994.2" cy="1198.4" rx="33.6" ry="12" stroke-width="3.2"/>
<path d="M960.2,1198.7 L960.2,1226.7" stroke-width="3.1"/>
<path d="M1028.3,1198.7 L1028.3,1226.7" stroke-width="3.1"/>
<path d="M960.2,1226.7 C961.2,1227.6 963.6,1230.5 966.7,1232 C969.7,1233.5 973.8,1234.9 978.3,1235.8 C982.9,1236.7 988.9,1237.3 994.2,1237.3 C999.4,1237.3 1005.4,1236.7 1010,1235.8 C1014.6,1234.9 1018.6,1233.5 1021.7,1232 C1024.7,1230.5 1027.2,1227.6 1028.3,1226.7" stroke-width="3.1"/>
<path d="M962.7,1230.3 L962.7,1350.3" stroke-width="3.1"/>
<path d="M1024.3,1230.3 L1024.7,1350.3" stroke-width="3.1"/>
<path d="M962.7,1350.3 C963.2,1351.7 963.5,1356.2 965.8,1358.3 C968.2,1360.5 971.9,1362.2 976.7,1363.3 C981.4,1364.5 988.3,1365.3 994.2,1365.3 C1000,1365.3 1007.1,1364.5 1011.7,1363.3 C1016.2,1362.2 1019.5,1360.5 1021.7,1358.3 C1023.8,1356.2 1024.2,1351.7 1024.7,1350.3" stroke-width="3.1"/>
<path d="M962,1351 C960.3,1352.5 954.9,1356.8 951.7,1360 C948.4,1363.2 945.3,1366.1 942.5,1370 C939.7,1373.9 937.4,1378.3 935,1383.3 C932.6,1388.3 930.3,1394.4 928.3,1400 C926.4,1405.6 924.7,1410.8 923.3,1416.7 C921.9,1422.5 920.9,1428.6 920,1435 C919.1,1441.4 918.2,1448.1 917.7,1455 C917.1,1461.9 917,1473.1 916.8,1476.7 L916.8,1874 C916.8,1884 922,1890 932,1894.5 C950,1902 975,1906.3 993.6,1906.3 C1012,1906.3 1037,1902 1055,1894.5 C1065,1890 1070.5,1884 1070.5,1874 L1070.5,1476.7" stroke-width="3.1"/>
<path d="M1025.7,1351 C1027.4,1352.6 1032.6,1357.3 1035.8,1360.8 C1039.1,1364.3 1042.2,1368 1045,1372 C1047.8,1376 1050.1,1380.1 1052.5,1385 C1054.9,1389.9 1057.3,1396.1 1059.2,1401.7 C1061.1,1407.2 1062.4,1412.5 1063.8,1418.3 C1065.2,1424.2 1066.5,1430.3 1067.5,1436.7 C1068.5,1443.1 1069.3,1450 1069.8,1456.7 C1070.3,1463.3 1070.4,1473.3 1070.5,1476.7" stroke-width="3.1"/>
<path d="M1383.2,1518.4 L1396.9,1517.2 L1433.6,1533.8 L1497.6,1561.6 C1499,1562.5 1504.7,1565.4 1507.1,1567.5 C1509.5,1569.7 1512.1,1573 1513.6,1575.8 C1515,1578.7 1516.3,1583.3 1516.8,1586.5 C1517.2,1589.7 1517.1,1594.1 1516.5,1597.2 C1516,1600.2 1514.4,1604 1513,1606.6 C1511.6,1609.3 1509.2,1612.6 1507.1,1614.9 C1504.9,1617.2 1500,1621 1498.8,1622 L1249.8,1786.8" stroke-width="2.6"/>
<path d="M1249.8,1786.8 C1249.2,1786.2 1246.8,1785.2 1245.9,1783.3 C1245.1,1781.4 1243.8,1778.2 1245,1775.3 C1246.3,1772.5 1251.9,1767.7 1253.3,1766.2" stroke-width="2.6"/>
<path d="M1249.8,1786.8 L1370.1,1856.6" stroke-width="2.6"/>
<path d="M1383.2,1518.4 L1375,1534.4 L1379.7,1550.9 L1418.2,1568.1 L1473.9,1594.8" stroke-width="2.6"/>
<path d="M1474.5,1571.7 C1475.6,1572.6 1479.6,1574.7 1481,1577 C1482.4,1579.3 1483.4,1582.7 1483,1585.3 C1482.7,1587.9 1480.4,1590.8 1478.9,1592.4 C1477.3,1594 1474.7,1594.4 1473.9,1594.8" stroke-width="2.6"/>
<path d="M1473.9,1594.8 L1232.7,1746.7" stroke-width="2.6"/>
<path d="M1232.7,1746.7 C1230.8,1748.2 1221.9,1754.6 1218.9,1758.1 C1215.9,1761.7 1211.6,1769.1 1210.2,1773 C1208.9,1777 1208.4,1783.5 1208.6,1787.9 C1208.9,1792.3 1210.4,1802 1212.1,1806.2 C1213.7,1810.5 1218.6,1817.1 1221.2,1820 C1223.8,1822.9 1230.1,1826.9 1231.5,1828" stroke-width="2.6"/>
<path d="M1231.5,1828 L1343.7,1893.7" stroke-width="2.6"/>
<path d="M1384.4,1520.4 L1422.9,1537" stroke-width="2.6"/>
<path d="M1375,1534.6 L1415.2,1552.7" stroke-width="2.6"/>
<path d="M1433.6,1534 C1432.2,1534.9 1427.7,1536.9 1425.3,1539.1 C1422.9,1541.3 1420.9,1544.4 1419.4,1547.4 C1417.9,1550.4 1416.9,1554.1 1416.4,1556.9 C1416,1559.6 1416.4,1562.1 1416.8,1564 C1417.1,1565.9 1418.2,1567.6 1418.4,1568.4" stroke-width="2.6"/>
<path d="M1310.5,1826.8 C1308.6,1828.6 1301.9,1833.3 1299.1,1837.2 C1296.2,1841 1294.5,1845.7 1293.4,1849.7 C1292.2,1853.8 1292.4,1859.7 1292.2,1861.7" stroke-width="2.6"/>
<path d="M1307.5,1832.6 L1361.4,1858.4" stroke-width="2.6"/>
<path d="M1293.8,1849.7 L1346,1879.5" stroke-width="2.6"/>
<path d="M1370.1,1856.6 L1370.5,1876.1 L1357.5,1893.3 L1343.7,1893.7 L1346,1879.5 L1361.4,1858.4 L1370.1,1856.6" stroke-width="2.6"/>
<path d="M309.5,1925.2 L309.5,1967.2 L315,1967.2 L315,1973.6 L309.5,1973.6 L309.5,1980.6 L302.2,1980.6 L302.2,1973.6 L276.6,1973.6 L276.6,1971.1 L305.9,1925.2 Z M302.2,1967.2 L287.2,1967.2 L302.2,1943.6 Z" fill="#1a1a1a" fill-rule="evenodd" stroke="none"/>
<path d="M315.2,1945.9 L325.2,1945.9 L352.2,1980.6 L342.2,1980.6 Z M342.2,1945.9 L352.2,1945.9 L325.2,1980.6 L315.2,1980.6 Z" fill="#1a1a1a" stroke="none"/>
<path d="M531.93,1943.06 A13.75,13.75 0 0 1 549.32,1927.93 A13.75,13.75 0 0 1 556.1,1949.96 L535.78,1974.3 L562.8,1974.3" stroke-width="7" stroke-linecap="butt" stroke-linejoin="miter" stroke-miterlimit="10"/>
<path d="M563.9,1943.1 L573.9,1943.1 L600.9,1977.8 L590.9,1977.8 Z M590.9,1943.1 L600.9,1943.1 L573.9,1977.8 L563.9,1977.8 Z" fill="#1a1a1a" stroke="none"/>
<path d="M773.4,1925.2 L773.4,1967.2 L778.9,1967.2 L778.9,1973.6 L773.4,1973.6 L773.4,1980.6 L766.1,1980.6 L766.1,1973.6 L740.5,1973.6 L740.5,1971.1 L769.8,1925.2 Z M766.1,1967.2 L751.1,1967.2 L766.1,1943.6 Z" fill="#1a1a1a" fill-rule="evenodd" stroke="none"/>
<path d="M779,1945.9 L789,1945.9 L816,1980.6 L806,1980.6 Z M806,1945.9 L816,1945.9 L789,1980.6 L779,1980.6 Z" fill="#1a1a1a" stroke="none"/>
<path d="M986.2,1925.4 L986.2,1967.4 L991.7,1967.4 L991.7,1973.8 L986.2,1973.8 L986.2,1980.8 L978.9,1980.8 L978.9,1973.8 L953.3,1973.8 L953.3,1971.3 L982.6,1925.4 Z M978.9,1967.4 L963.9,1967.4 L978.9,1943.8 Z" fill="#1a1a1a" fill-rule="evenodd" stroke="none"/>
<path d="M991.5,1946.1 L1001.5,1946.1 L1028.5,1980.8 L1018.5,1980.8 Z M1018.5,1946.1 L1028.5,1946.1 L1001.5,1980.8 L991.5,1980.8 Z" fill="#1a1a1a" stroke="none"/>
<path d="M1300.2,1928.8 L1316.7,1928.8 L1316.7,1981.4 L1309.8,1981.4 L1309.8,1935.6 L1300.2,1935.6 Z" fill="#1a1a1a" stroke="none"/>
<path d="M1331.1,1945.9 L1341.1,1945.9 L1367.8,1981.4 L1357.8,1981.4 Z M1357.8,1945.9 L1367.8,1945.9 L1341.1,1981.4 L1331.1,1981.4 Z" fill="#1a1a1a" stroke="none"/>
<g transform="translate(376.1,1904.4) rotate(-90)" stroke="#1a1a1a"><g transform="translate(0,0)"><path d="M4,0 L11.2,0 L11.2,24.7 L7.6,24.7 L7.6,3.6 L4,3.6 Z" fill="#1a1a1a" stroke="none"/></g><g transform="translate(18,0)"><ellipse cx="9.18" cy="12.35" rx="6.67" ry="10.95" stroke-width="3.4" fill="none"/></g><g transform="translate(36,0)"><path d="M14.75,0 L14.75,18.73 L17.2,18.73 L17.2,21.58 L14.75,21.58 L14.75,24.7 L11.5,24.7 L11.5,21.58 L0.1,21.58 L0.1,20.46 L13.15,0 Z M11.5,18.73 L4.82,18.73 L11.5,8.2 Z" fill="#1a1a1a" fill-rule="evenodd" stroke="none"/></g><g transform="translate(54,0)"><path d="M3.73,4.81 A4.8,4.65 0 0 1 9.3,1.7 A4.8,4.65 0 0 1 13.07,6.74 A4.8,4.65 0 0 1 8.3,10.9 " stroke-width="3.4" stroke-linecap="butt" stroke-linejoin="miter" stroke-miterlimit="10" fill="none" /><path d="M8.65,10.9 A6.15,6.1 0 0 1 14.75,16.22 A6.15,6.1 0 0 1 10.21,22.9 A6.15,6.1 0 0 1 2.95,19.29 " stroke-width="3.4" stroke-linecap="butt" stroke-linejoin="miter" stroke-miterlimit="10" fill="none" /><path d="M5.3,10.9 H8.8" stroke-width="3.4" stroke-linecap="butt" stroke-linejoin="miter" stroke-miterlimit="10" fill="none" /></g><g transform="translate(72,0)"><path d="M2.86,8.65 A6.1,6.1 0 0 1 10.5,1.91 A6.1,6.1 0 0 1 13.68,11.59 L4.62,23 L16.7,23" stroke-width="3.4" stroke-linecap="butt" stroke-linejoin="miter" stroke-miterlimit="10" fill="none" /></g><g transform="translate(90,0)"><path d="M4,0 L11.2,0 L11.2,24.7 L7.6,24.7 L7.6,3.6 L4,3.6 Z" fill="#1a1a1a" stroke="none"/></g></g>
<g transform="translate(626.5,1901.9) rotate(-90)" stroke="#1a1a1a"><g transform="translate(0,0)"><path d="M4,0 L11.2,0 L11.2,24.7 L7.6,24.7 L7.6,3.6 L4,3.6 Z" fill="#1a1a1a" stroke="none"/></g><g transform="translate(18,0)"><ellipse cx="9.18" cy="12.35" rx="6.67" ry="10.95" stroke-width="3.4" fill="none"/></g><g transform="translate(36,0)"><path d="M14.75,0 L14.75,18.73 L17.2,18.73 L17.2,21.58 L14.75,21.58 L14.75,24.7 L11.5,24.7 L11.5,21.58 L0.1,21.58 L0.1,20.46 L13.15,0 Z M11.5,18.73 L4.82,18.73 L11.5,8.2 Z" fill="#1a1a1a" fill-rule="evenodd" stroke="none"/></g><g transform="translate(54,0)"><path d="M1.15,0 L18.55,0 L5.49,24.7 L1.65,24.7 L13.41,3.4 L1.15,3.4 Z" fill="#1a1a1a" stroke="none"/></g><g transform="translate(72,0)"><path d="M2.86,8.65 A6.1,6.1 0 0 1 10.5,1.91 A6.1,6.1 0 0 1 13.68,11.59 L4.62,23 L16.7,23" stroke-width="3.4" stroke-linecap="butt" stroke-linejoin="miter" stroke-miterlimit="10" fill="none" /></g><g transform="translate(90,0)"><ellipse cx="9.15" cy="5.75" rx="4.5" ry="4.45" stroke-width="3.4" fill="none"/><ellipse cx="9.15" cy="16.75" rx="6.25" ry="6.55" stroke-width="3.4" fill="none"/></g></g>
<g transform="translate(824.2,1899.7) rotate(-90)" stroke="#1a1a1a"><g transform="translate(0,0)"><path d="M4,0 L11.2,0 L11.2,24.7 L7.6,24.7 L7.6,3.6 L4,3.6 Z" fill="#1a1a1a" stroke="none"/></g><g transform="translate(18,0)"><ellipse cx="9.18" cy="12.35" rx="6.67" ry="10.95" stroke-width="3.4" fill="none"/></g><g transform="translate(36,0)"><ellipse cx="9.25" cy="7.25" rx="6.55" ry="5.85" stroke-width="3.4" fill="none"/><path d="M15.02,10.02 L6.2,24.7" stroke-width="3.4" stroke-linecap="butt" stroke-linejoin="miter" stroke-miterlimit="10" fill="none" /></g><g transform="translate(54,0)"><path d="M16.8,1.7 H7 L4.29,12.24" stroke-width="3.4" stroke-linecap="butt" stroke-linejoin="miter" stroke-miterlimit="10" fill="none" /><path d="M3.89,12.44 A6.4,6.9 0 0 1 13.54,11.23 A6.4,6.9 0 0 1 13.2,21.69 A6.4,6.9 0 0 1 3.66,19.75 " stroke-width="3.4" stroke-linecap="butt" stroke-linejoin="miter" stroke-miterlimit="10" fill="none" /></g><g transform="translate(72,0)"><path d="M1.15,0 L18.55,0 L5.49,24.7 L1.65,24.7 L13.41,3.4 L1.15,3.4 Z" fill="#1a1a1a" stroke="none"/></g><g transform="translate(90,0)"><path d="M4,0 L11.2,0 L11.2,24.7 L7.6,24.7 L7.6,3.6 L4,3.6 Z" fill="#1a1a1a" stroke="none"/></g></g>
<g transform="translate(1087.1,1900.3) rotate(-90)" stroke="#1a1a1a"><g transform="translate(0,0)"><path d="M4,0 L11.2,0 L11.2,24.7 L7.6,24.7 L7.6,3.6 L4,3.6 Z" fill="#1a1a1a" stroke="none"/></g><g transform="translate(18,0)"><ellipse cx="9.18" cy="12.35" rx="6.67" ry="10.95" stroke-width="3.4" fill="none"/></g><g transform="translate(36,0)"><ellipse cx="9.18" cy="12.35" rx="6.67" ry="10.95" stroke-width="3.4" fill="none"/></g><g transform="translate(54,0)"><ellipse cx="9.15" cy="5.75" rx="4.5" ry="4.45" stroke-width="3.4" fill="none"/><ellipse cx="9.15" cy="16.75" rx="6.25" ry="6.55" stroke-width="3.4" fill="none"/></g><g transform="translate(72,0)"><path d="M14.75,0 L14.75,18.73 L17.2,18.73 L17.2,21.58 L14.75,21.58 L14.75,24.7 L11.5,24.7 L11.5,21.58 L0.1,21.58 L0.1,20.46 L13.15,0 Z M11.5,18.73 L4.82,18.73 L11.5,8.2 Z" fill="#1a1a1a" fill-rule="evenodd" stroke="none"/></g><g transform="translate(90,0)"><ellipse cx="9.18" cy="12.35" rx="6.67" ry="10.95" stroke-width="3.4" fill="none"/></g></g>
<g transform="translate(1390.2,1903.6) rotate(-90)" stroke="#1a1a1a"><g transform="translate(0,0)"><path d="M4,0 L11.2,0 L11.2,24.7 L7.6,24.7 L7.6,3.6 L4,3.6 Z" fill="#1a1a1a" stroke="none"/></g><g transform="translate(18,0)"><ellipse cx="9.18" cy="12.35" rx="6.67" ry="10.95" stroke-width="3.4" fill="none"/></g><g transform="translate(36,0)"><ellipse cx="9.18" cy="12.35" rx="6.67" ry="10.95" stroke-width="3.4" fill="none"/></g><g transform="translate(54,0)"><ellipse cx="9.18" cy="12.35" rx="6.67" ry="10.95" stroke-width="3.4" fill="none"/></g><g transform="translate(72,0)"><ellipse cx="9.18" cy="12.35" rx="6.67" ry="10.95" stroke-width="3.4" fill="none"/></g><g transform="translate(90,0)"><path d="M4,0 L11.2,0 L11.2,24.7 L7.6,24.7 L7.6,3.6 L4,3.6 Z" fill="#1a1a1a" stroke="none"/></g></g>
<g transform="translate(142.8,2085.5) scale(1.24,1.24)" stroke="#1a1a1a"><g transform="translate(0,0)"><path d="M2.14,8.75 A6.83,6.83 0 0 1 10.96,1.29 A6.83,6.83 0 0 1 13.89,12.47 L3.33,23.73 L16.7,23.73" stroke-width="1.94" stroke-linecap="butt" stroke-linejoin="miter" stroke-miterlimit="10" fill="none" /></g></g>
<g transform="translate(1426.3,2099) scale(0.81,0.81)" stroke="#1a1a1a"><g transform="translate(0,0)"><path d="M0,24.7 L2.15,24.7 L12.02,2.2 L10.72,0 Z M23.6,24.7 L21.45,24.7 L11.58,2.2 L12.88,0 Z M4.6,16.5 H19 V18.33 H4.6 Z" fill="#1a1a1a" stroke="none"/></g><g transform="translate(22.2,0)"><path d="M0,24.7 L2.15,24.7 L12.02,2.2 L10.72,0 Z M23.6,24.7 L21.45,24.7 L11.58,2.2 L12.88,0 Z M4.6,16.5 H19 V18.33 H4.6 Z" fill="#1a1a1a" stroke="none"/></g><g transform="translate(44.4,0)"><path d="M0.8,14.8 H6.6 V16.63 H0.8 Z" fill="#1a1a1a" stroke="none"/></g><g transform="translate(54.3,0)"><path d="M2.13,8.75 A6.84,6.84 0 0 1 10.97,1.28 A6.84,6.84 0 0 1 13.89,12.48 L3.32,23.74 L16.7,23.74" stroke-width="1.92" stroke-linecap="butt" stroke-linejoin="miter" stroke-miterlimit="10" fill="none" /></g><g transform="translate(72.35,0)"><path d="M2.13,8.75 A6.84,6.84 0 0 1 10.97,1.28 A6.84,6.84 0 0 1 13.89,12.48 L3.32,23.74 L16.7,23.74" stroke-width="1.92" stroke-linecap="butt" stroke-linejoin="miter" stroke-miterlimit="10" fill="none" /></g><g transform="translate(90.4,0)"><path d="M16.8,0.96 H7 L3.68,11.83" stroke-width="1.92" stroke-linecap="butt" stroke-linejoin="miter" stroke-miterlimit="10" fill="none" /><path d="M3.28,12.03 A7.14,7.64 0 0 1 14.04,10.68 A7.14,7.64 0 0 1 13.66,22.26 A7.14,7.64 0 0 1 3.02,20.12 " stroke-width="1.92" stroke-linecap="butt" stroke-linejoin="miter" stroke-miterlimit="10" fill="none" /></g><g transform="translate(108.45,0)"><path d="M3.03,4.58 A5.54,5.39 0 0 1 9.45,0.98 A5.54,5.39 0 0 1 13.81,6.81 A5.54,5.39 0 0 1 8.3,11.64 " stroke-width="1.92" stroke-linecap="butt" stroke-linejoin="miter" stroke-miterlimit="10" fill="none" /><path d="M8.65,11.64 A6.89,6.1 0 0 1 15.48,16.96 A6.89,6.1 0 0 1 10.39,23.64 A6.89,6.1 0 0 1 2.26,20.02 " stroke-width="1.92" stroke-linecap="butt" stroke-linejoin="miter" stroke-miterlimit="10" fill="none" /><path d="M5.3,11.64 H8.8" stroke-width="1.92" stroke-linecap="butt" stroke-linejoin="miter" stroke-miterlimit="10" fill="none" /></g><g transform="translate(126.5,0)"><path d="M3.03,4.58 A5.54,5.39 0 0 1 9.45,0.98 A5.54,5.39 0 0 1 13.81,6.81 A5.54,5.39 0 0 1 8.3,11.64 " stroke-width="1.92" stroke-linecap="butt" stroke-linejoin="miter" stroke-miterlimit="10" fill="none" /><path d="M8.65,11.64 A6.89,6.1 0 0 1 15.48,16.96 A6.89,6.1 0 0 1 10.39,23.64 A6.89,6.1 0 0 1 2.26,20.02 " stroke-width="1.92" stroke-linecap="butt" stroke-linejoin="miter" stroke-miterlimit="10" fill="none" /><path d="M5.3,11.64 H8.8" stroke-width="1.92" stroke-linecap="butt" stroke-linejoin="miter" stroke-miterlimit="10" fill="none" /></g><g transform="translate(144.55,0)"><path d="M0.8,14.8 H6.6 V16.63 H0.8 Z" fill="#1a1a1a" stroke="none"/></g><g transform="translate(154.45,0)"><path d="M16.8,0.96 H7 L3.68,11.83" stroke-width="1.92" stroke-linecap="butt" stroke-linejoin="miter" stroke-miterlimit="10" fill="none" /><path d="M3.28,12.03 A7.14,7.64 0 0 1 14.04,10.68 A7.14,7.64 0 0 1 13.66,22.26 A7.14,7.64 0 0 1 3.02,20.12 " stroke-width="1.92" stroke-linecap="butt" stroke-linejoin="miter" stroke-miterlimit="10" fill="none" /></g></g>
</svg>
</body></html>
